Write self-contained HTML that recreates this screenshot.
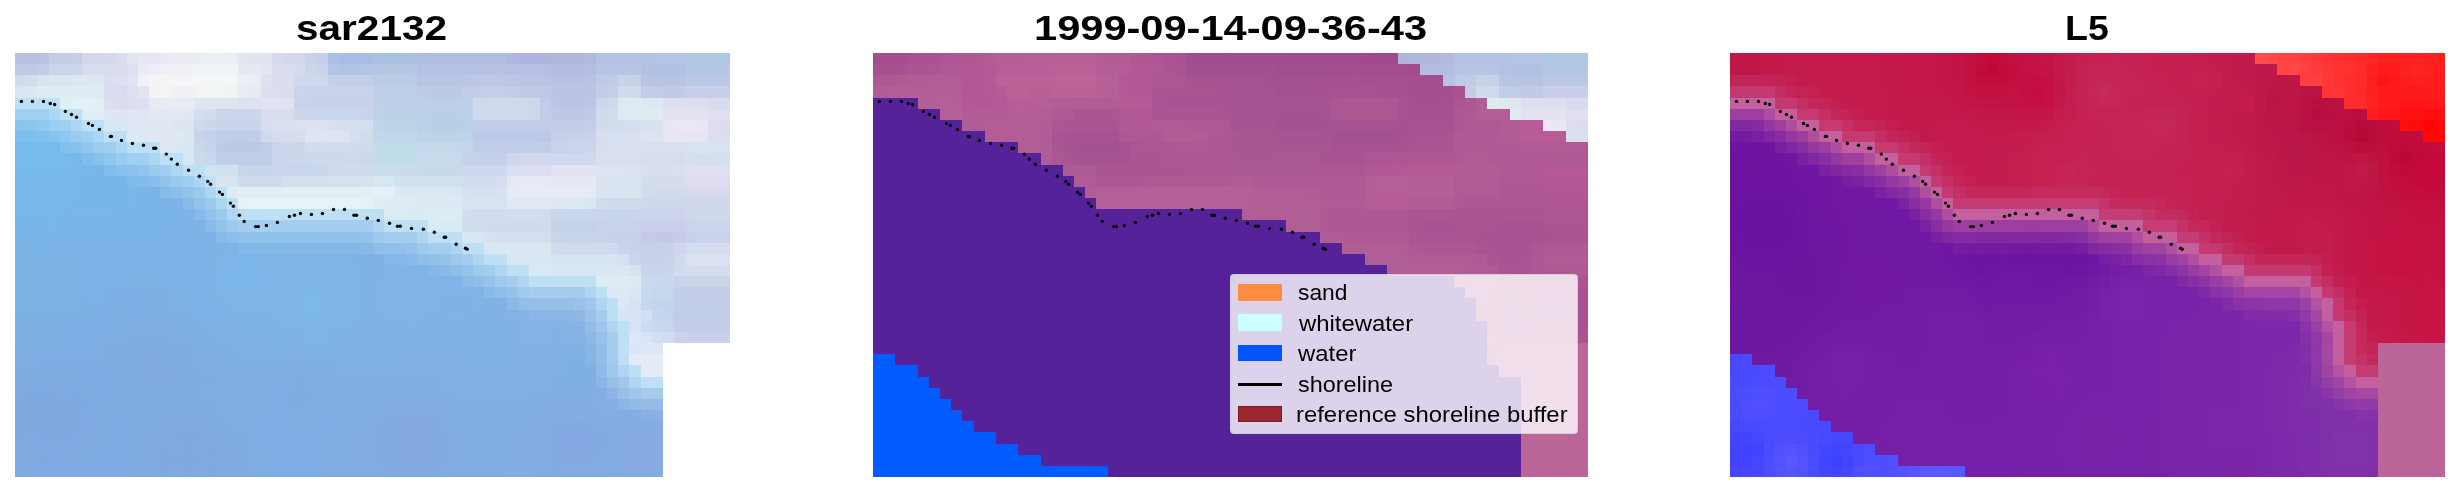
<!DOCTYPE html>
<html><head><meta charset="utf-8"><style>
html,body{margin:0;padding:0;background:#fff;width:2460px;height:492px;overflow:hidden}
body{position:relative;font-family:"Liberation Sans",sans-serif}
.pn{position:absolute;top:53px;display:block}
.ov{position:absolute;left:0;top:0}
.t{position:absolute;top:0;font-weight:bold;font-size:35.4px;line-height:1;color:#000;white-space:nowrap;transform-origin:0 0;will-change:transform}
.lg{position:absolute;left:1230px;top:274px;width:348px;height:160px;box-sizing:border-box;border:1px solid rgba(204,204,204,0.8);
border-radius:4px;background:rgba(255,255,255,0.8)}
.lt{position:absolute;left:1298px;font-size:22px;line-height:1;color:#000;white-space:nowrap;transform-origin:0 0;transform:scaleX(1.085);will-change:transform}
.pt{position:absolute;left:1238px;width:44px;height:17px}
</style></head><body>
<svg class="pn" style="left:15px" width="715" height="424" viewBox="0 0 64 38" preserveAspectRatio="none" shape-rendering="crispEdges"><path fill="#b9c1e1" d="M0 0h1v1h-1z"/><path fill="#b9c1e0" d="M1 0h1v1h-1z"/><path fill="#bac2e1" d="M2 0h1v1h-1z"/><path fill="#c4cce6" d="M3 0h1v1h-1zM52 3h1v1h-1z"/><path fill="#c5cde6" d="M4 0h1v1h-1z"/><path fill="#c7cee7" d="M5 0h1v1h-1z"/><path fill="#d3d7ec" d="M6 0h1v1h-1z"/><path fill="#d4d8ec" d="M7 0h1v1h-1zM24 0h1v1h-1z"/><path fill="#d5d9ed" d="M8 0h1v1h-1z"/><path fill="#d9ddee" d="M9 0h1v1h-1z"/><path fill="#e2e4f1" d="M10 0h1v1h-1z"/><path fill="#e5e7f2" d="M11 0h1v1h-1z"/><path fill="#e6e7f3" d="M12 0h1v1h-1z"/><path fill="#eaeaf4" d="M13 0h1v1h-1z"/><path fill="#ebebf4" d="M14 0h1v1h-1z"/><path fill="#eaebf4" d="M15 0h1v1h-1z"/><path fill="#e9eef4" d="M16 0h1v1h-1z"/><path fill="#e9eff4" d="M17 0h2v1h-2z"/><path fill="#e8eef4" d="M19 0h1v1h-1z"/><path fill="#e1e6f2" d="M20 0h1v1h-1z"/><path fill="#e0e4f2" d="M21 0h1v1h-1z"/><path fill="#dfe3f2" d="M22 0h1v1h-1z"/><path fill="#d6daed" d="M23 0h1v1h-1z"/><path fill="#d3d8ec" d="M25 0h1v1h-1z"/><path fill="#cad1e9" d="M26 0h1v1h-1z"/><path fill="#c5cee8" d="M27 0h1v1h-1z"/><path fill="#adbfe5" d="M28 0h1v1h-1z"/><path fill="#a9bde4" d="M29 0h3v1h-3z"/><path fill="#a9c0e1" d="M32 0h1v1h-1z"/><path fill="#a9c1e0" d="M33 0h2v1h-2z"/><path fill="#aac0e1" d="M35 0h1v1h-1z"/><path fill="#b0bde2" d="M36 0h1v1h-1z"/><path fill="#b0bce2" d="M37 0h5v1h-5zM43 0h1v1h-1z"/><path fill="#b1bce2" d="M42 0h1v1h-1z"/><path fill="#aeb6e1" d="M44 0h1v1h-1z"/><path fill="#adb5e0" d="M45 0h2v1h-2z"/><path fill="#aeb6e0" d="M47 0h1v1h-1z"/><path fill="#b0b8e0" d="M48 0h3v1h-3z"/><path fill="#b1b9e1" d="M51 0h1v1h-1z"/><path fill="#b4c0e4" d="M52 0h3v1h-3zM37 1h4v1h-4z"/><path fill="#b4c1e4" d="M55 0h1v1h-1zM36 1h1v1h-1z"/><path fill="#b4c3e4" d="M56 0h1v1h-1z"/><path fill="#b4c4e4" d="M57 0h2v1h-2z"/><path fill="#b3c4e4" d="M59 0h1v1h-1z"/><path fill="#b1c8e4" d="M60 0h1v1h-1zM63 0h1v1h-1z"/><path fill="#b0c8e4" d="M61 0h2v1h-2z"/><path fill="#c1c9e5" d="M0 1h2v1h-2z"/><path fill="#c3cbe5" d="M2 1h1v1h-1z"/><path fill="#ccd4ea" d="M3 1h1v1h-1zM56 14h3v1h-3z"/><path fill="#cdd5ea" d="M4 1h1v1h-1zM26 1h1v1h-1z"/><path fill="#ced6eb" d="M5 1h1v1h-1zM52 4h1v1h-1z"/><path fill="#d7dcef" d="M6 1h1v1h-1z"/><path fill="#d8ddef" d="M7 1h1v1h-1z"/><path fill="#d8dcef" d="M8 1h1v1h-1zM24 1h1v1h-1zM22 5h1v1h-1zM24 5h1v1h-1z"/><path fill="#dcdcee" d="M9 1h1v1h-1zM63 6h1v1h-1z"/><path fill="#dedfef" d="M10 1h1v1h-1zM58 4h1v1h-1z"/><path fill="#ebebf5" d="M11 1h1v1h-1z"/><path fill="#ecedf6" d="M12 1h1v1h-1z"/><path fill="#eff0f7" d="M13 1h1v1h-1z"/><path fill="#f0f0f7" d="M14 1h2v1h-2z"/><path fill="#f0f3f6" d="M16 1h1v1h-1z"/><path fill="#f0f4f6" d="M17 1h2v1h-2z"/><path fill="#eff3f6" d="M19 1h1v1h-1z"/><path fill="#e5e9f4" d="M20 1h1v1h-1z"/><path fill="#e4e8f4" d="M21 1h1v1h-1zM12 5h3v1h-3zM49 11h2v1h-2z"/><path fill="#e2e6f3" d="M22 1h1v1h-1z"/><path fill="#d9ddef" d="M23 1h1v1h-1z"/><path fill="#d6dbee" d="M25 1h1v1h-1z"/><path fill="#cad3ea" d="M27 1h1v1h-1z"/><path fill="#b4c6e7" d="M28 1h1v1h-1z"/><path fill="#b1c4e6" d="M29 1h2v1h-2z"/><path fill="#b1c5e6" d="M31 1h1v1h-1z"/><path fill="#b3c7e4" d="M32 1h1v1h-1z"/><path fill="#b4c8e4" d="M33 1h2v1h-2z"/><path fill="#b4c7e4" d="M35 1h1v1h-1z"/><path fill="#b5c0e4" d="M41 1h1v1h-1z"/><path fill="#b8c0e4" d="M42 1h2v1h-2zM48 2h3v1h-3z"/><path fill="#b7bfe4" d="M44 1h4v1h-4z"/><path fill="#b4bce2" d="M48 1h3v1h-3z"/><path fill="#b4bde2" d="M51 1h1v1h-1z"/><path fill="#b8c4e4" d="M52 1h2v1h-2zM57 2h3v1h-3z"/><path fill="#b9c5e4" d="M54 1h1v1h-1z"/><path fill="#b8c5e4" d="M55 1h1v1h-1z"/><path fill="#b2c1e4" d="M56 1h1v1h-1z"/><path fill="#b1c1e4" d="M57 1h3v1h-3z"/><path fill="#b4c7e6" d="M60 1h1v1h-1z"/><path fill="#b4c8e6" d="M61 1h3v1h-3z"/><path fill="#d2dbed" d="M0 2h1v1h-1z"/><path fill="#d3dcee" d="M1 2h1v1h-1zM17 5h1v1h-1z"/><path fill="#d9e2ef" d="M2 2h1v1h-1z"/><path fill="#dbe3f0" d="M3 2h1v1h-1zM20 4h1v1h-1zM56 7h1v1h-1zM55 10h1v1h-1z"/><path fill="#dbe4f0" d="M4 2h1v1h-1zM53 10h2v1h-2z"/><path fill="#dee6f1" d="M5 2h1v1h-1zM16 4h1v1h-1z"/><path fill="#dfe7f2" d="M6 2h1v1h-1z"/><path fill="#dfe6f2" d="M7 2h1v1h-1z"/><path fill="#dcddf0" d="M8 2h1v1h-1z"/><path fill="#dfdff1" d="M9 2h1v1h-1z"/><path fill="#e1e2f2" d="M10 2h1v1h-1z"/><path fill="#f0f1f4" d="M11 2h1v1h-1z"/><path fill="#f3f5f4" d="M12 2h1v1h-1z"/><path fill="#f4f5f6" d="M13 2h1v1h-1z"/><path fill="#f3f5f6" d="M14 2h2v1h-2z"/><path fill="#f5f7f6" d="M16 2h3v1h-3z"/><path fill="#f4f7f6" d="M19 2h1v1h-1z"/><path fill="#ecf0f6" d="M20 2h1v1h-1z"/><path fill="#eaedf5" d="M21 2h1v1h-1z"/><path fill="#dedff1" d="M22 2h1v1h-1z"/><path fill="#dcdcf0" d="M23 2h1v1h-1zM9 4h1v1h-1z"/><path fill="#dbdcf0" d="M24 2h1v1h-1zM24 3h1v1h-1z"/><path fill="#d1d8ec" d="M25 2h1v1h-1zM60 13h4v1h-4z"/><path fill="#cfd7ec" d="M26 2h1v1h-1zM60 14h1v1h-1z"/><path fill="#ced7eb" d="M27 2h1v1h-1z"/><path fill="#c4d0ea" d="M28 2h1v1h-1z"/><path fill="#c3cfea" d="M29 2h2v1h-2z"/><path fill="#c2cfe9" d="M31 2h1v1h-1zM18 9h1v1h-1z"/><path fill="#bccce6" d="M32 2h1v1h-1z"/><path fill="#bbcce6" d="M33 2h2v1h-2z"/><path fill="#bbcbe6" d="M35 2h1v1h-1z"/><path fill="#b8c6e6" d="M36 2h4v1h-4z"/><path fill="#b9c6e6" d="M40 2h1v1h-1z"/><path fill="#bfc7e7" d="M41 2h1v1h-1zM43 2h1v1h-1z"/><path fill="#c0c8e8" d="M42 2h1v1h-1z"/><path fill="#bdc5e6" d="M44 2h1v1h-1zM48 4h1v1h-1z"/><path fill="#bcc4e6" d="M45 2h3v1h-3zM49 4h2v1h-2z"/><path fill="#b9c1e4" d="M51 2h1v1h-1z"/><path fill="#bfcae6" d="M52 2h1v1h-1z"/><path fill="#c0cce6" d="M53 2h1v1h-1z"/><path fill="#c7d3e8" d="M54 2h1v1h-1z"/><path fill="#c6d2e8" d="M55 2h1v1h-1z"/><path fill="#b9c5e5" d="M56 2h1v1h-1z"/><path fill="#bcc8e6" d="M60 2h4v1h-4z"/><path fill="#d8e7f2" d="M0 3h2v1h-2zM42 17h2v1h-2z"/><path fill="#deebf3" d="M2 3h1v1h-1z"/><path fill="#dfebf3" d="M3 3h1v1h-1z"/><path fill="#e0ecf4" d="M4 3h3v1h-3zM33 13h1v1h-1z"/><path fill="#e0eaf4" d="M7 3h1v1h-1z"/><path fill="#dadaf0" d="M8 3h2v1h-2z"/><path fill="#dfdff0" d="M10 3h1v1h-1zM62 5h2v1h-2z"/><path fill="#e3e4f1" d="M11 3h1v1h-1z"/><path fill="#f1f3f2" d="M12 3h1v1h-1z"/><path fill="#f2f5f3" d="M13 3h1v1h-1z"/><path fill="#eff1f4" d="M14 3h2v1h-2z"/><path fill="#f2f4f5" d="M16 3h1v1h-1z"/><path fill="#f2f5f5" d="M17 3h2v1h-2z"/><path fill="#f1f4f5" d="M19 3h1v1h-1z"/><path fill="#e8edf4" d="M20 3h1v1h-1z"/><path fill="#e6eaf3" d="M21 3h1v1h-1z"/><path fill="#dedef1" d="M22 3h1v1h-1zM11 4h1v1h-1z"/><path fill="#ddddf0" d="M23 3h1v1h-1zM10 4h1v1h-1z"/><path fill="#cad5eb" d="M25 3h1v1h-1zM19 5h2v1h-2zM26 5h2v1h-2z"/><path fill="#c9d4ea" d="M26 3h2v1h-2zM21 6h1v1h-1zM60 20h4v1h-4z"/><path fill="#c8d3ea" d="M28 3h3v1h-3zM52 15h1v1h-1zM55 15h1v1h-1z"/><path fill="#c7d3ea" d="M31 3h1v1h-1zM19 6h2v1h-2zM17 8h1v1h-1z"/><path fill="#bdd0e8" d="M32 3h1v1h-1z"/><path fill="#bcd0e8" d="M33 3h2v1h-2zM33 5h3v1h-3z"/><path fill="#bccfe8" d="M35 3h1v1h-1zM36 4h4v1h-4z"/><path fill="#bccbe6" d="M36 3h1v1h-1z"/><path fill="#bccae6" d="M37 3h3v1h-3z"/><path fill="#c2cce8" d="M40 3h1v1h-1z"/><path fill="#c5cde8" d="M41 3h3v1h-3z"/><path fill="#c4cce8" d="M44 3h1v1h-1zM48 6h3v1h-3zM60 24h4v1h-4z"/><path fill="#c1cae7" d="M45 3h1v1h-1z"/><path fill="#c1c9e7" d="M46 3h1v1h-1z"/><path fill="#bfc8e6" d="M47 3h1v1h-1z"/><path fill="#bcc4e4" d="M48 3h4v1h-4z"/><path fill="#c6cee7" d="M53 3h1v1h-1z"/><path fill="#d0dbec" d="M54 3h1v1h-1z"/><path fill="#cfdbec" d="M55 3h1v1h-1zM42 4h3v1h-3zM42 5h4v1h-4zM28 10h1v1h-1z"/><path fill="#c4cde7" d="M56 3h1v1h-1z"/><path fill="#c2cbe7" d="M57 3h1v1h-1z"/><path fill="#c2cae7" d="M58 3h1v1h-1zM51 5h1v1h-1z"/><path fill="#c3cae7" d="M59 3h1v1h-1z"/><path fill="#c8cde8" d="M60 3h1v1h-1zM62 3h2v1h-2z"/><path fill="#c9cde9" d="M61 3h1v1h-1z"/><path fill="#bce1f6" d="M0 4h4v1h-4zM4 5h2v1h-2zM6 6h2v1h-2zM8 7h2v1h-2z"/><path fill="#dfeff7" d="M4 4h1v1h-1zM6 5h1v1h-1z"/><path fill="#e0f0f7" d="M5 4h1v1h-1z"/><path fill="#e3f0f6" d="M6 4h1v1h-1z"/><path fill="#e3eef5" d="M7 4h1v1h-1z"/><path fill="#dfdef1" d="M8 4h1v1h-1z"/><path fill="#e8ebf3" d="M12 4h1v1h-1z"/><path fill="#e9edf4" d="M13 4h1v1h-1z"/><path fill="#e8ecf4" d="M14 4h1v1h-1z"/><path fill="#e7ebf4" d="M15 4h1v1h-1zM48 12h3v1h-3z"/><path fill="#dde5f0" d="M17 4h1v1h-1z"/><path fill="#dce4f0" d="M18 4h2v1h-2zM52 10h1v1h-1z"/><path fill="#dce3f0" d="M21 4h1v1h-1z"/><path fill="#e2e3f3" d="M22 4h2v1h-2z"/><path fill="#e0e1f2" d="M24 4h1v1h-1z"/><path fill="#cad2eb" d="M25 4h1v1h-1zM63 16h1v1h-1zM60 25h4v1h-4z"/><path fill="#c8d1ea" d="M26 4h5v1h-5z"/><path fill="#c7d1ea" d="M31 4h1v1h-1z"/><path fill="#c0d0e8" d="M32 4h1v1h-1z"/><path fill="#bfd0e8" d="M33 4h3v1h-3z"/><path fill="#bed1e8" d="M40 4h1v1h-1z"/><path fill="#cddaeb" d="M41 4h1v1h-1z"/><path fill="#cfdaeb" d="M45 4h1v1h-1z"/><path fill="#cdd9eb" d="M46 4h1v1h-1zM46 5h1v1h-1z"/><path fill="#c1cce8" d="M47 4h1v1h-1z"/><path fill="#bec6e6" d="M51 4h1v1h-1z"/><path fill="#d1d9ec" d="M53 4h1v1h-1z"/><path fill="#dde9f1" d="M54 4h1v1h-1zM56 4h1v1h-1z"/><path fill="#dfebf1" d="M55 4h1v1h-1z"/><path fill="#dde8f1" d="M57 4h1v1h-1z"/><path fill="#dedeef" d="M59 4h3v1h-3z"/><path fill="#d8dbee" d="M62 4h1v1h-1z"/><path fill="#d7dbee" d="M63 4h1v1h-1z"/><path fill="#a0d1f2" d="M0 5h3v1h-3zM4 6h1v1h-1z"/><path fill="#acd8f4" d="M3 5h1v1h-1z"/><path fill="#dfeef7" d="M7 5h1v1h-1z"/><path fill="#dfe5f4" d="M8 5h1v1h-1z"/><path fill="#dfe4f4" d="M9 5h1v1h-1z"/><path fill="#e0e4f4" d="M10 5h2v1h-2z"/><path fill="#e2e7f3" d="M15 5h1v1h-1z"/><path fill="#d5ddef" d="M16 5h1v1h-1zM25 7h1v1h-1z"/><path fill="#cbd6eb" d="M18 5h1v1h-1zM21 5h1v1h-1zM23 9h1v1h-1z"/><path fill="#d9ddf0" d="M23 5h1v1h-1z"/><path fill="#ccd6eb" d="M25 5h1v1h-1z"/><path fill="#c9d5ea" d="M28 5h3v1h-3zM23 10h1v1h-1zM52 14h4v1h-4z"/><path fill="#c8d4ea" d="M31 5h1v1h-1zM18 6h1v1h-1zM21 10h2v1h-2zM53 15h2v1h-2zM49 16h3v1h-3z"/><path fill="#bdd1e8" d="M32 5h1v1h-1z"/><path fill="#b9d0e6" d="M36 5h1v1h-1zM40 6h1v1h-1z"/><path fill="#b8d0e6" d="M37 5h3v1h-3zM37 6h3v1h-3z"/><path fill="#bad1e7" d="M40 5h1v1h-1z"/><path fill="#ccdaeb" d="M41 5h1v1h-1z"/><path fill="#c1cde8" d="M47 5h1v1h-1zM42 6h5v1h-5zM18 7h1v1h-1zM44 8h3v1h-3zM59 23h1v1h-1z"/><path fill="#c0c8e6" d="M48 5h3v1h-3z"/><path fill="#d2daed" d="M52 5h1v1h-1zM59 19h1v1h-1z"/><path fill="#d4ddee" d="M53 5h1v1h-1zM59 9h1v1h-1zM56 11h1v1h-1z"/><path fill="#dee9f1" d="M54 5h1v1h-1z"/><path fill="#dfebf2" d="M55 5h2v1h-2z"/><path fill="#e0eaf1" d="M57 5h1v1h-1z"/><path fill="#e4e2f1" d="M58 5h1v1h-1z"/><path fill="#e4e1f0" d="M59 5h3v1h-3z"/><path fill="#8bc5ef" d="M0 6h1v1h-1z"/><path fill="#8bc6f0" d="M1 6h1v1h-1z"/><path fill="#8fc8f0" d="M2 6h1v1h-1zM4 7h1v1h-1z"/><path fill="#99cef2" d="M3 6h1v1h-1z"/><path fill="#acd7f4" d="M5 6h1v1h-1z"/><path fill="#d6e8f4" d="M8 6h1v1h-1z"/><path fill="#d7e8f4" d="M9 6h1v1h-1z"/><path fill="#dfe8f4" d="M10 6h1v1h-1z"/><path fill="#e0e8f4" d="M11 6h3v1h-3z"/><path fill="#dde5f2" d="M14 6h1v1h-1z"/><path fill="#dce4f2" d="M15 6h1v1h-1z"/><path fill="#cdd9ed" d="M16 6h1v1h-1z"/><path fill="#ccd7ec" d="M17 6h1v1h-1zM24 9h2v1h-2z"/><path fill="#d9deef" d="M22 6h1v1h-1z"/><path fill="#dbdef0" d="M23 6h1v1h-1z"/><path fill="#dbdff0" d="M24 6h1v1h-1z"/><path fill="#dce1f1" d="M25 6h1v1h-1z"/><path fill="#dee3f1" d="M26 6h1v1h-1z"/><path fill="#dde2f1" d="M27 6h1v1h-1z"/><path fill="#d8e0ef" d="M28 6h1v1h-1zM53 8h3v1h-3z"/><path fill="#d7dfef" d="M29 6h1v1h-1zM52 8h1v1h-1z"/><path fill="#d6dfee" d="M30 6h1v1h-1z"/><path fill="#d4deee" d="M31 6h1v1h-1z"/><path fill="#bfd5e9" d="M32 6h1v1h-1z"/><path fill="#bcd4e8" d="M33 6h3v1h-3zM37 7h3v1h-3z"/><path fill="#b9d1e6" d="M36 6h1v1h-1z"/><path fill="#c0cde8" d="M41 6h1v1h-1zM19 7h2v1h-2zM41 8h1v1h-1zM20 9h2v1h-2zM59 22h1v1h-1z"/><path fill="#c0cce8" d="M47 6h1v1h-1zM42 8h2v1h-2zM60 22h4v1h-4zM60 23h4v1h-4z"/><path fill="#c5cde9" d="M51 6h1v1h-1z"/><path fill="#d0dbee" d="M52 6h1v1h-1z"/><path fill="#d1dcee" d="M53 6h1v1h-1zM26 8h1v1h-1z"/><path fill="#d2deef" d="M54 6h1v1h-1zM40 14h1v1h-1z"/><path fill="#d3deef" d="M55 6h1v1h-1z"/><path fill="#d8e1ef" d="M56 6h1v1h-1z"/><path fill="#dbe2ef" d="M57 6h1v1h-1z"/><path fill="#e9e6f3" d="M58 6h1v1h-1z"/><path fill="#ebe7f4" d="M59 6h2v1h-2z"/><path fill="#eae6f3" d="M61 6h1v1h-1z"/><path fill="#deddef" d="M62 6h1v1h-1z"/><path fill="#7dbeee" d="M0 7h1v1h-1z"/><path fill="#7dbfee" d="M1 7h1v1h-1z"/><path fill="#80c1ef" d="M2 7h1v1h-1z"/><path fill="#87c4f0" d="M3 7h1v1h-1z"/><path fill="#99cdf1" d="M5 7h1v1h-1z"/><path fill="#a0d0f2" d="M6 7h1v1h-1z"/><path fill="#acd7f3" d="M7 7h1v1h-1zM9 8h1v1h-1z"/><path fill="#dceaf4" d="M10 7h1v1h-1zM36 13h3v1h-3z"/><path fill="#dce9f4" d="M11 7h1v1h-1z"/><path fill="#dfe8f3" d="M12 7h1v1h-1z"/><path fill="#dfe8f2" d="M13 7h2v1h-2z"/><path fill="#dce6f1" d="M15 7h1v1h-1z"/><path fill="#c8d3eb" d="M16 7h1v1h-1z"/><path fill="#c5d1ea" d="M17 7h1v1h-1zM49 15h3v1h-3z"/><path fill="#c2cee9" d="M21 7h1v1h-1z"/><path fill="#d1d9ed" d="M22 7h1v1h-1z"/><path fill="#d4dcee" d="M23 7h2v1h-2zM57 11h2v1h-2zM61 17h3v1h-3zM60 19h4v1h-4z"/><path fill="#dee4f1" d="M26 7h1v1h-1z"/><path fill="#dfe5f2" d="M27 7h1v1h-1z"/><path fill="#dee5f1" d="M28 7h1v1h-1z"/><path fill="#dde4f1" d="M29 7h1v1h-1z"/><path fill="#d5ddee" d="M30 7h1v1h-1zM56 9h3v1h-3z"/><path fill="#d2dcee" d="M31 7h1v1h-1z"/><path fill="#c1d8ea" d="M32 7h1v1h-1z"/><path fill="#c0d8ea" d="M33 7h2v1h-2z"/><path fill="#bfd8ea" d="M35 7h1v1h-1z"/><path fill="#bdd4e8" d="M36 7h1v1h-1z"/><path fill="#bcd3e8" d="M40 7h1v1h-1z"/><path fill="#bdcae7" d="M41 7h1v1h-1z"/><path fill="#bdc9e6" d="M42 7h5v1h-5z"/><path fill="#bec9e7" d="M47 7h1v1h-1z"/><path fill="#c7cfea" d="M48 7h1v1h-1z"/><path fill="#c8d0ea" d="M49 7h2v1h-2zM54 16h2v1h-2zM55 17h1v1h-1zM58 17h1v1h-1zM56 18h2v1h-2z"/><path fill="#c9d1eb" d="M51 7h1v1h-1zM61 16h2v1h-2zM58 18h1v1h-1z"/><path fill="#d6deef" d="M52 7h1v1h-1z"/><path fill="#d7e0f0" d="M53 7h2v1h-2z"/><path fill="#d8e0f0" d="M55 7h1v1h-1zM56 8h2v1h-2zM52 9h4v1h-4z"/><path fill="#dde3f0" d="M57 7h1v1h-1z"/><path fill="#e7e5f3" d="M58 7h1v1h-1zM61 7h1v1h-1z"/><path fill="#e9e6f4" d="M59 7h2v1h-2z"/><path fill="#dddeef" d="M62 7h1v1h-1z"/><path fill="#dcddee" d="M63 7h1v1h-1z"/><path fill="#77baed" d="M0 8h1v1h-1zM0 9h1v1h-1z"/><path fill="#76bbee" d="M1 8h1v1h-1zM3 8h1v1h-1zM2 9h1v1h-1z"/><path fill="#76bcee" d="M2 8h1v1h-1z"/><path fill="#80c0ee" d="M4 8h1v1h-1z"/><path fill="#87c2ee" d="M5 8h1v1h-1z"/><path fill="#90c6ef" d="M6 8h1v1h-1z"/><path fill="#9accf0" d="M7 8h1v1h-1z"/><path fill="#a0cff1" d="M8 8h1v1h-1zM10 9h1v1h-1z"/><path fill="#bce0f6" d="M10 8h3v1h-3zM13 9h2v1h-2zM15 10h1v1h-1z"/><path fill="#d9e8f4" d="M13 8h2v1h-2z"/><path fill="#d7e6f3" d="M15 8h1v1h-1zM41 16h1v1h-1z"/><path fill="#c9d6eb" d="M16 8h1v1h-1z"/><path fill="#becbe7" d="M18 8h1v1h-1z"/><path fill="#bdcae6" d="M19 8h3v1h-3z"/><path fill="#c0cde7" d="M22 8h1v1h-1z"/><path fill="#cbd6ec" d="M23 8h1v1h-1z"/><path fill="#cdd7ec" d="M24 8h2v1h-2z"/><path fill="#d1ddee" d="M27 8h3v1h-3zM52 13h1v1h-1zM41 14h3v1h-3zM47 14h1v1h-1zM48 17h1v1h-1z"/><path fill="#d0dced" d="M30 8h1v1h-1z"/><path fill="#cfdced" d="M31 8h1v1h-1z"/><path fill="#c1dcea" d="M32 8h1v1h-1zM33 9h3v1h-3z"/><path fill="#c0dcea" d="M33 8h2v1h-2z"/><path fill="#c0dbea" d="M35 8h1v1h-1z"/><path fill="#c3d8ea" d="M36 8h1v1h-1z"/><path fill="#c4d8ea" d="M37 8h3v1h-3z"/><path fill="#c3d6e9" d="M40 8h1v1h-1z"/><path fill="#c2cde9" d="M47 8h1v1h-1z"/><path fill="#cbd3ec" d="M48 8h1v1h-1z"/><path fill="#ccd4ec" d="M49 8h2v1h-2zM60 15h4v1h-4z"/><path fill="#cdd5ec" d="M51 8h1v1h-1z"/><path fill="#d9e0f0" d="M58 8h1v1h-1z"/><path fill="#d9e1f0" d="M59 8h1v1h-1z"/><path fill="#d9e3f0" d="M60 8h1v1h-1z"/><path fill="#d9e4f0" d="M61 8h1v1h-1zM52 11h1v1h-1zM52 12h1v1h-1z"/><path fill="#d8e3f0" d="M62 8h2v1h-2zM55 11h1v1h-1zM43 13h1v1h-1z"/><path fill="#76bbed" d="M1 9h1v1h-1zM3 9h1v1h-1z"/><path fill="#77baec" d="M4 9h1v1h-1z"/><path fill="#77b8eb" d="M5 9h1v1h-1zM4 11h1v1h-1zM3 12h1v1h-1z"/><path fill="#82bdec" d="M6 9h1v1h-1z"/><path fill="#88c1ed" d="M7 9h1v1h-1z"/><path fill="#90c5ee" d="M8 9h1v1h-1z"/><path fill="#9acbf0" d="M9 9h1v1h-1z"/><path fill="#a1cff1" d="M11 9h1v1h-1z"/><path fill="#add6f3" d="M12 9h1v1h-1z"/><path fill="#d6e6f3" d="M15 9h1v1h-1z"/><path fill="#cadaed" d="M16 9h1v1h-1z"/><path fill="#c8d8ec" d="M17 9h1v1h-1z"/><path fill="#c1cee9" d="M19 9h1v1h-1z"/><path fill="#c1cee8" d="M22 9h1v1h-1z"/><path fill="#ccd8ec" d="M26 9h2v1h-2z"/><path fill="#cdd9ec" d="M28 9h3v1h-3z"/><path fill="#ccd9ec" d="M31 9h1v1h-1z"/><path fill="#c2dcea" d="M32 9h1v1h-1z"/><path fill="#c7dbec" d="M36 9h1v1h-1z"/><path fill="#c8dbec" d="M37 9h2v1h-2z"/><path fill="#c7daeb" d="M39 9h1v1h-1z"/><path fill="#c5d2e9" d="M40 9h1v1h-1z"/><path fill="#c5d0e9" d="M41 9h2v1h-2z"/><path fill="#c6d1e9" d="M43 9h1v1h-1z"/><path fill="#cfd7ed" d="M44 9h1v1h-1z"/><path fill="#d0d7ee" d="M45 9h3v1h-3z"/><path fill="#d1d9ee" d="M48 9h3v1h-3zM59 18h1v1h-1z"/><path fill="#d2d9ee" d="M51 9h1v1h-1z"/><path fill="#d3e0ee" d="M60 9h1v1h-1zM63 9h1v1h-1z"/><path fill="#d2e0ee" d="M61 9h2v1h-2z"/><path fill="#77b9ec" d="M0 10h1v1h-1zM2 10h3v1h-3z"/><path fill="#76b9ec" d="M1 10h1v1h-1z"/><path fill="#78b8eb" d="M5 10h1v1h-1z"/><path fill="#78b7ea" d="M6 10h1v1h-1zM5 12h1v1h-1zM4 13h1v1h-1zM3 14h1v1h-1z"/><path fill="#78b6ea" d="M7 10h1v1h-1zM6 11h4v1h-4zM6 12h4v1h-4zM5 13h5v1h-5zM4 14h1v1h-1zM0 15h3v1h-3z"/><path fill="#82bcec" d="M8 10h1v1h-1z"/><path fill="#88c0ed" d="M9 10h1v1h-1z"/><path fill="#8dc2ed" d="M10 10h1v1h-1z"/><path fill="#91c5ee" d="M11 10h1v1h-1z"/><path fill="#9bcaef" d="M12 10h1v1h-1zM14 11h1v1h-1z"/><path fill="#a1cef0" d="M13 10h1v1h-1z"/><path fill="#add6f2" d="M14 10h1v1h-1zM16 11h1v1h-1zM17 12h1v1h-1z"/><path fill="#bde0f6" d="M16 10h1v1h-1z"/><path fill="#d0e3f0" d="M17 10h1v1h-1z"/><path fill="#cfe2ef" d="M18 10h1v1h-1z"/><path fill="#cfe0ef" d="M19 10h1v1h-1z"/><path fill="#c8d5eb" d="M20 10h1v1h-1z"/><path fill="#c9d5eb" d="M24 10h3v1h-3zM49 14h3v1h-3zM48 16h1v1h-1z"/><path fill="#cad6eb" d="M27 10h1v1h-1zM48 14h1v1h-1z"/><path fill="#d0dcec" d="M29 10h2v1h-2zM57 12h2v1h-2z"/><path fill="#cfdcec" d="M31 10h1v1h-1z"/><path fill="#c9ddec" d="M32 10h2v1h-2z"/><path fill="#c8dcec" d="M34 10h2v1h-2z"/><path fill="#c9d9ec" d="M36 10h4v1h-4z"/><path fill="#cfd8ed" d="M40 10h1v1h-1z"/><path fill="#cfd8ee" d="M41 10h2v1h-2z"/><path fill="#d0d8ee" d="M43 10h1v1h-1z"/><path fill="#dbddf2" d="M44 10h1v1h-1z"/><path fill="#dcddf2" d="M45 10h2v1h-2z"/><path fill="#dddef2" d="M47 10h1v1h-1z"/><path fill="#e2e3f2" d="M48 10h4v1h-4z"/><path fill="#d8e0ee" d="M56 10h1v1h-1z"/><path fill="#d7dfee" d="M57 10h2v1h-2z"/><path fill="#d8dfee" d="M59 10h1v1h-1z"/><path fill="#e1e0f0" d="M60 10h1v1h-1zM63 10h1v1h-1z"/><path fill="#e2e0f0" d="M61 10h2v1h-2z"/><path fill="#76b8ec" d="M0 11h3v1h-3zM0 12h3v1h-3zM1 13h1v1h-1z"/><path fill="#77b8ec" d="M3 11h1v1h-1zM0 13h1v1h-1zM2 13h1v1h-1z"/><path fill="#78b7eb" d="M5 11h1v1h-1zM4 12h1v1h-1z"/><path fill="#7fbaeb" d="M10 11h1v1h-1z"/><path fill="#83bbeb" d="M11 11h1v1h-1z"/><path fill="#89bfec" d="M12 11h1v1h-1z"/><path fill="#92c4ed" d="M13 11h1v1h-1z"/><path fill="#a2cef0" d="M15 11h1v1h-1z"/><path fill="#bde0f5" d="M17 11h1v1h-1zM18 12h1v1h-1zM19 13h1v1h-1zM20 14h13v1h-13zM33 15h4v1h-4zM37 16h3v1h-3zM40 17h2v1h-2zM42 18h2v1h-2zM44 19h1v1h-1z"/><path fill="#d8e5f0" d="M18 11h1v1h-1z"/><path fill="#d7e4f0" d="M19 11h1v1h-1z"/><path fill="#cfdbed" d="M20 11h1v1h-1z"/><path fill="#cedaed" d="M21 11h3v1h-3z"/><path fill="#d4e0ee" d="M24 11h4v1h-4z"/><path fill="#d5e1ef" d="M28 11h3v1h-3z"/><path fill="#d5e2ef" d="M31 11h1v1h-1z"/><path fill="#d8e7f1" d="M32 11h1v1h-1z"/><path fill="#d7e7f1" d="M33 11h1v1h-1z"/><path fill="#d1e1ef" d="M34 11h1v1h-1z"/><path fill="#d0e0ee" d="M35 11h4v1h-4z"/><path fill="#d1e0ee" d="M39 11h1v1h-1z"/><path fill="#d3dcf0" d="M40 11h1v1h-1z"/><path fill="#d4dcf0" d="M41 11h2v1h-2z"/><path fill="#d5ddf0" d="M43 11h1v1h-1z"/><path fill="#e5e9f5" d="M44 11h1v1h-1z"/><path fill="#e7ebf6" d="M45 11h2v1h-2z"/><path fill="#e7eaf5" d="M47 11h1v1h-1z"/><path fill="#e5e8f4" d="M48 11h1v1h-1z"/><path fill="#e3e8f3" d="M51 11h1v1h-1z"/><path fill="#d8e4f0" d="M53 11h2v1h-2z"/><path fill="#d5dcee" d="M59 11h1v1h-1z"/><path fill="#dfdcf0" d="M60 11h1v1h-1z"/><path fill="#e0dcf0" d="M61 11h3v1h-3z"/><path fill="#79b6ea" d="M10 12h1v1h-1z"/><path fill="#79b5e9" d="M11 12h1v1h-1zM11 13h1v1h-1zM9 14h2v1h-2zM4 15h6v1h-6zM0 16h1v1h-1z"/><path fill="#7ab5e9" d="M12 12h1v1h-1zM11 14h1v1h-1z"/><path fill="#84bbea" d="M13 12h1v1h-1z"/><path fill="#8abfeb" d="M14 12h1v1h-1z"/><path fill="#92c4ec" d="M15 12h1v1h-1z"/><path fill="#9ccaee" d="M16 12h1v1h-1zM17 13h1v1h-1zM18 14h1v1h-1zM19 15h1v1h-1z"/><path fill="#dcecf4" d="M19 12h1v1h-1z"/><path fill="#e2eef5" d="M20 12h4v1h-4z"/><path fill="#e3eff5" d="M24 12h8v1h-8z"/><path fill="#e6eff5" d="M32 12h1v1h-1z"/><path fill="#e5eef5" d="M33 12h1v1h-1z"/><path fill="#dce8f2" d="M34 12h1v1h-1z"/><path fill="#dbe8f2" d="M35 12h1v1h-1z"/><path fill="#dbe7f2" d="M36 12h3v1h-3zM44 17h3v1h-3z"/><path fill="#dae7f2" d="M39 12h1v1h-1z"/><path fill="#d5e1f0" d="M40 12h1v1h-1z"/><path fill="#d4e0f0" d="M41 12h2v1h-2zM43 16h4v1h-4z"/><path fill="#d6e1f1" d="M43 12h1v1h-1z"/><path fill="#e6ebf5" d="M44 12h1v1h-1z"/><path fill="#e8ecf6" d="M45 12h3v1h-3z"/><path fill="#e5ebf3" d="M51 12h1v1h-1z"/><path fill="#d7e3f0" d="M53 12h2v1h-2zM40 13h3v1h-3z"/><path fill="#d7e3ef" d="M55 12h1v1h-1z"/><path fill="#d1dced" d="M56 12h1v1h-1z"/><path fill="#d1dbec" d="M59 12h1v1h-1z"/><path fill="#d7d9ee" d="M60 12h1v1h-1z"/><path fill="#d8d8ee" d="M61 12h3v1h-3z"/><path fill="#77b7eb" d="M3 13h1v1h-1zM0 14h3v1h-3z"/><path fill="#79b6e9" d="M10 13h1v1h-1zM5 14h4v1h-4zM3 15h1v1h-1z"/><path fill="#7ab5e8" d="M12 13h1v1h-1zM10 15h1v1h-1zM3 16h1v1h-1z"/><path fill="#7bb4e8" d="M13 13h2v1h-2zM13 14h1v1h-1zM12 15h1v1h-1zM11 16h1v1h-1z"/><path fill="#85bae9" d="M15 13h1v1h-1zM16 14h1v1h-1z"/><path fill="#93c3ec" d="M16 13h1v1h-1zM17 14h1v1h-1zM18 15h1v1h-1z"/><path fill="#aed6f2" d="M18 13h1v1h-1zM19 14h1v1h-1z"/><path fill="#e5f2f7" d="M20 13h1v1h-1z"/><path fill="#e6f3f7" d="M21 13h10v1h-10z"/><path fill="#e6f2f7" d="M31 13h1v1h-1z"/><path fill="#e1edf5" d="M32 13h1v1h-1z"/><path fill="#dfecf4" d="M34 13h1v1h-1z"/><path fill="#dfebf4" d="M35 13h1v1h-1zM53 20h2v1h-2z"/><path fill="#dceaf3" d="M39 13h1v1h-1z"/><path fill="#e2e8f3" d="M44 13h1v1h-1z"/><path fill="#e3e9f4" d="M45 13h2v1h-2z"/><path fill="#e2e9f3" d="M47 13h1v1h-1z"/><path fill="#dce7f2" d="M48 13h1v1h-1z"/><path fill="#dbe7f1" d="M49 13h2v1h-2z"/><path fill="#dae6f1" d="M51 13h1v1h-1zM47 17h1v1h-1z"/><path fill="#d0dcee" d="M53 13h3v1h-3zM42 15h5v1h-5zM49 17h4v1h-4z"/><path fill="#d0d8ec" d="M56 13h4v1h-4zM61 14h3v1h-3z"/><path fill="#7ab4e8" d="M12 14h1v1h-1zM11 15h1v1h-1zM4 16h7v1h-7z"/><path fill="#7bb4e7" d="M14 14h1v1h-1zM13 15h1v1h-1zM12 16h1v1h-1zM2 17h1v1h-1zM5 17h6v1h-6z"/><path fill="#7cb4e7" d="M15 14h1v1h-1zM14 15h3v1h-3zM13 16h1v1h-1zM16 16h1v1h-1z"/><path fill="#d9ecf4" d="M33 14h4v1h-4z"/><path fill="#dbedf4" d="M37 14h1v1h-1z"/><path fill="#dcedf4" d="M38 14h1v1h-1z"/><path fill="#dbecf3" d="M39 14h1v1h-1z"/><path fill="#d2ddef" d="M44 14h3v1h-3z"/><path fill="#cdd4ea" d="M59 14h1v1h-1z"/><path fill="#86bae9" d="M17 15h1v1h-1zM18 16h1v1h-1z"/><path fill="#a2ceef" d="M20 15h1v1h-1z"/><path fill="#a3ceef" d="M21 15h9v1h-9z"/><path fill="#a3cdef" d="M30 15h1v1h-1z"/><path fill="#a4cdef" d="M31 15h1v1h-1zM33 16h3v1h-3zM37 17h2v1h-2z"/><path fill="#afd5f2" d="M32 15h1v1h-1z"/><path fill="#d8ecf4" d="M37 15h2v1h-2z"/><path fill="#d8eaf3" d="M39 15h1v1h-1z"/><path fill="#d1deef" d="M40 15h1v1h-1z"/><path fill="#d1ddef" d="M41 15h1v1h-1z"/><path fill="#cfdbee" d="M47 15h1v1h-1zM53 17h1v1h-1z"/><path fill="#c6d2ea" d="M48 15h1v1h-1z"/><path fill="#cbd0ea" d="M56 15h4v1h-4z"/><path fill="#79b5e8" d="M1 16h2v1h-2z"/><path fill="#7cb3e7" d="M14 16h2v1h-2zM12 17h4v1h-4zM11 18h1v1h-1z"/><path fill="#7db4e7" d="M17 16h1v1h-1zM16 17h3v1h-3zM16 18h2v1h-2zM17 19h1v1h-1zM17 20h1v1h-1zM17 21h1v1h-1zM18 22h1v1h-1zM20 23h2v1h-2z"/><path fill="#8cbfea" d="M19 16h1v1h-1z"/><path fill="#90c1eb" d="M20 16h7v1h-7z"/><path fill="#91c1eb" d="M27 16h2v1h-2z"/><path fill="#91c0ea" d="M29 16h2v1h-2z"/><path fill="#95c3eb" d="M31 16h1v1h-1z"/><path fill="#9ec9ed" d="M32 16h1v1h-1zM36 17h1v1h-1zM39 18h1v1h-1z"/><path fill="#afd5f1" d="M36 16h1v1h-1zM39 17h1v1h-1zM43 19h1v1h-1z"/><path fill="#d7e7f3" d="M40 16h1v1h-1z"/><path fill="#d4e1f0" d="M42 16h1v1h-1z"/><path fill="#d3dfef" d="M47 16h1v1h-1z"/><path fill="#c9d2ea" d="M52 16h1v1h-1z"/><path fill="#c9d1ea" d="M53 16h1v1h-1zM60 16h1v1h-1z"/><path fill="#c5cae9" d="M56 16h1v1h-1z"/><path fill="#c5c9e8" d="M57 16h2v1h-2z"/><path fill="#c6cbe9" d="M59 16h1v1h-1z"/><path fill="#7ab4e7" d="M0 17h2v1h-2z"/><path fill="#7bb4e6" d="M3 17h2v1h-2z"/><path fill="#7bb3e7" d="M11 17h1v1h-1zM8 18h3v1h-3z"/><path fill="#7db5e7" d="M19 17h1v1h-1zM18 18h1v1h-1zM22 18h5v1h-5zM22 19h6v1h-6zM23 20h1v1h-1zM28 20h1v1h-1zM18 21h1v1h-1zM22 21h2v1h-2zM19 22h5v1h-5zM23 23h1v1h-1zM25 24h1v1h-1zM27 24h1v1h-1z"/><path fill="#83b9e8" d="M20 17h4v1h-4z"/><path fill="#83b8e8" d="M24 17h2v1h-2z"/><path fill="#84b8e8" d="M26 17h3v1h-3z"/><path fill="#84b8e7" d="M29 17h1v1h-1z"/><path fill="#85b8e7" d="M30 17h1v1h-1z"/><path fill="#88b9e8" d="M31 17h1v1h-1z"/><path fill="#8ebee9" d="M32 17h1v1h-1z"/><path fill="#92c0ea" d="M33 17h2v1h-2zM37 18h1v1h-1z"/><path fill="#96c3eb" d="M35 17h1v1h-1zM38 18h1v1h-1zM40 19h1v1h-1zM42 20h1v1h-1z"/><path fill="#cad3eb" d="M54 17h1v1h-1z"/><path fill="#c8cfea" d="M56 17h2v1h-2z"/><path fill="#cfd6ed" d="M59 17h1v1h-1z"/><path fill="#d3dbee" d="M60 17h1v1h-1z"/><path fill="#7bb3e6" d="M0 18h2v1h-2zM5 18h3v1h-3zM0 19h1v1h-1z"/><path fill="#7bb3e5" d="M2 18h3v1h-3z"/><path fill="#7cb3e6" d="M12 18h3v1h-3zM7 19h2v1h-2z"/><path fill="#7db3e6" d="M15 18h1v1h-1zM14 19h3v1h-3zM15 20h2v1h-2zM16 21h1v1h-1zM17 22h1v1h-1zM18 23h2v1h-2z"/><path fill="#7cb5e7" d="M19 18h3v1h-3zM18 19h1v1h-1zM18 20h1v1h-1zM22 20h1v1h-1z"/><path fill="#7eb5e6" d="M27 18h1v1h-1zM29 20h1v1h-1zM29 21h1v1h-1zM29 22h1v1h-1zM28 24h1v1h-1z"/><path fill="#7eb4e6" d="M28 18h2v1h-2zM29 19h1v1h-1zM29 23h1v1h-1zM29 24h1v1h-1zM26 25h2v1h-2z"/><path fill="#7fb3e6" d="M30 18h3v1h-3zM31 19h2v1h-2zM31 20h1v1h-1zM31 21h1v1h-1zM31 22h1v1h-1zM31 23h1v1h-1zM30 24h1v1h-1z"/><path fill="#85b7e7" d="M33 18h1v1h-1z"/><path fill="#86b7e7" d="M34 18h1v1h-1zM37 19h1v1h-1z"/><path fill="#89b9e8" d="M35 18h1v1h-1z"/><path fill="#8fbee9" d="M36 18h1v1h-1zM39 19h1v1h-1zM41 20h1v1h-1z"/><path fill="#a4ceef" d="M40 18h1v1h-1zM42 19h1v1h-1z"/><path fill="#afd6f2" d="M41 18h1v1h-1z"/><path fill="#d8e8f2" d="M44 18h4v1h-4zM48 19h4v1h-4z"/><path fill="#d7e4f2" d="M48 18h5v1h-5z"/><path fill="#d8e3f2" d="M53 18h1v1h-1z"/><path fill="#d6e0f1" d="M54 18h1v1h-1z"/><path fill="#cbd4eb" d="M55 18h1v1h-1z"/><path fill="#dae2f1" d="M60 18h1v1h-1zM63 18h1v1h-1z"/><path fill="#dbe3f1" d="M61 18h2v1h-2z"/><path fill="#7cb2e5" d="M1 19h1v1h-1zM5 19h2v1h-2zM0 20h2v1h-2zM5 20h4v1h-4zM0 21h2v1h-2zM5 21h3v1h-3zM0 22h2v1h-2z"/><path fill="#7cb2e4" d="M2 19h3v1h-3zM2 20h3v1h-3zM2 21h3v1h-3zM2 22h4v1h-4z"/><path fill="#7cb2e6" d="M9 19h4v1h-4zM9 20h2v1h-2z"/><path fill="#7db2e6" d="M13 19h1v1h-1zM13 20h2v1h-2zM15 21h1v1h-1zM16 22h1v1h-1zM17 23h1v1h-1z"/><path fill="#7cb5e8" d="M19 19h1v1h-1zM19 21h1v1h-1zM21 21h1v1h-1z"/><path fill="#7cb6e8" d="M20 19h2v1h-2zM19 20h3v1h-3zM20 21h1v1h-1z"/><path fill="#7eb5e7" d="M28 19h1v1h-1z"/><path fill="#7fb4e6" d="M30 19h1v1h-1zM30 20h1v1h-1zM30 21h1v1h-1zM30 22h1v1h-1zM30 23h1v1h-1z"/><path fill="#80b3e6" d="M33 19h4v1h-4zM32 20h7v1h-7zM32 21h2v1h-2zM37 21h2v1h-2zM41 21h1v1h-1zM32 22h2v1h-2zM37 22h1v1h-1zM33 23h1v1h-1zM35 24h1v1h-1z"/><path fill="#89bae8" d="M38 19h1v1h-1zM40 20h1v1h-1z"/><path fill="#9ecaed" d="M41 19h1v1h-1z"/><path fill="#bee0f5" d="M45 19h1v1h-1zM46 20h6v1h-6zM52 21h1v1h-1zM53 22h1v1h-1zM53 23h1v1h-1zM54 24h1v1h-1zM54 25h1v1h-1zM54 26h1v1h-1z"/><path fill="#d8e8f4" d="M46 19h2v1h-2z"/><path fill="#d9e8f2" d="M52 19h1v1h-1z"/><path fill="#dce5f2" d="M53 19h2v1h-2z"/><path fill="#d9e2f1" d="M55 19h1v1h-1z"/><path fill="#cad5ed" d="M56 19h1v1h-1z"/><path fill="#c8d4ec" d="M57 19h1v1h-1z"/><path fill="#c9d5ec" d="M58 19h1v1h-1z"/><path fill="#7db2e5" d="M11 20h2v1h-2zM14 21h1v1h-1z"/><path fill="#7db6e7" d="M24 20h4v1h-4zM24 21h1v1h-1zM28 21h1v1h-1zM24 22h1v1h-1zM28 22h1v1h-1zM24 23h1v1h-1zM28 23h1v1h-1zM26 24h1v1h-1z"/><path fill="#80b4e6" d="M39 20h1v1h-1zM34 21h3v1h-3zM39 21h2v1h-2zM34 22h3v1h-3zM34 23h3v1h-3z"/><path fill="#9fc9ed" d="M43 20h1v1h-1z"/><path fill="#a5cdee" d="M44 20h1v1h-1z"/><path fill="#b0d5f1" d="M45 20h1v1h-1zM51 21h1v1h-1zM53 24h1v1h-1z"/><path fill="#dcebf4" d="M52 20h1v1h-1z"/><path fill="#dde9f3" d="M55 20h1v1h-1z"/><path fill="#cad9ee" d="M56 20h1v1h-1z"/><path fill="#c8d8ee" d="M57 20h1v1h-1zM57 24h1v1h-1z"/><path fill="#c8d7ed" d="M58 20h1v1h-1zM58 24h1v1h-1z"/><path fill="#c9d4eb" d="M59 20h1v1h-1z"/><path fill="#7cb1e5" d="M8 21h1v1h-1zM6 22h1v1h-1zM0 23h2v1h-2z"/><path fill="#7db1e5" d="M9 21h5v1h-5zM7 22h2v1h-2z"/><path fill="#7cb7e8" d="M25 21h3v1h-3zM25 22h1v1h-1zM27 22h1v1h-1zM26 23h1v1h-1z"/><path fill="#89b9e7" d="M42 21h1v1h-1z"/><path fill="#90bde9" d="M43 21h1v1h-1z"/><path fill="#97c2ea" d="M44 21h1v1h-1z"/><path fill="#a0c9ed" d="M45 21h1v1h-1z"/><path fill="#a6cdee" d="M46 21h5v1h-5z"/><path fill="#dce8f4" d="M53 21h2v1h-2z"/><path fill="#dae7f3" d="M55 21h1v1h-1z"/><path fill="#c6d9ed" d="M56 21h1v1h-1z"/><path fill="#c4d8ec" d="M57 21h1v1h-1z"/><path fill="#c4d7ec" d="M58 21h1v1h-1z"/><path fill="#c4cee9" d="M59 21h1v1h-1z"/><path fill="#c4cde8" d="M60 21h4v1h-4z"/><path fill="#7db0e4" d="M9 22h3v1h-3zM7 23h2v1h-2zM4 24h3v1h-3zM0 25h4v1h-4z"/><path fill="#7eb0e4" d="M12 22h2v1h-2zM9 23h1v1h-1zM14 23h1v1h-1zM16 24h1v1h-1zM17 25h1v1h-1zM18 26h2v1h-2zM50 27h1v1h-1zM49 28h1v1h-1zM51 28h1v1h-1zM50 29h1v1h-1z"/><path fill="#7eb1e5" d="M14 22h2v1h-2zM16 23h1v1h-1zM17 24h1v1h-1zM18 25h2v1h-2zM20 26h4v1h-4z"/><path fill="#7cb8e8" d="M26 22h1v1h-1z"/><path fill="#80b3e5" d="M38 22h3v1h-3zM32 23h1v1h-1zM37 23h2v1h-2zM32 24h3v1h-3zM36 24h2v1h-2z"/><path fill="#81b3e5" d="M41 22h1v1h-1zM39 23h1v1h-1z"/><path fill="#81b2e5" d="M42 22h1v1h-1zM40 23h2v1h-2zM38 24h3v1h-3zM37 25h2v1h-2zM36 26h1v1h-1z"/><path fill="#82b2e5" d="M43 22h1v1h-1z"/><path fill="#8bb8e7" d="M44 22h1v1h-1z"/><path fill="#91bde8" d="M45 22h1v1h-1z"/><path fill="#95bfe9" d="M46 22h3v1h-3z"/><path fill="#96bfe9" d="M49 22h1v1h-1z"/><path fill="#9ac2ea" d="M50 22h1v1h-1zM51 23h1v1h-1z"/><path fill="#a1c8ec" d="M51 22h1v1h-1zM52 24h1v1h-1z"/><path fill="#b1d5f1" d="M52 22h1v1h-1z"/><path fill="#dbe7f4" d="M54 22h1v1h-1z"/><path fill="#d7e3f2" d="M55 22h1v1h-1z"/><path fill="#c5d7ed" d="M56 22h1v1h-1z"/><path fill="#c1d4ec" d="M57 22h2v1h-2z"/><path fill="#7cb1e4" d="M2 23h3v1h-3z"/><path fill="#7db1e4" d="M5 23h2v1h-2zM0 24h4v1h-4z"/><path fill="#7eafe4" d="M10 23h4v1h-4zM8 24h1v1h-1zM15 24h1v1h-1zM6 25h1v1h-1zM16 25h1v1h-1zM1 26h1v1h-1z"/><path fill="#7eb0e5" d="M15 23h1v1h-1z"/><path fill="#7db4e6" d="M22 23h1v1h-1zM23 24h1v1h-1z"/><path fill="#7cb7e7" d="M25 23h1v1h-1z"/><path fill="#7db7e7" d="M27 23h1v1h-1z"/><path fill="#81b2e4" d="M42 23h1v1h-1zM41 24h3v1h-3zM39 25h2v1h-2zM43 25h1v1h-1zM40 26h1v1h-1zM44 26h1v1h-1zM43 27h1v1h-1z"/><path fill="#82b2e4" d="M43 23h1v1h-1zM44 24h1v1h-1zM44 25h1v1h-1z"/><path fill="#83b2e4" d="M44 23h2v1h-2zM45 25h1v1h-1z"/><path fill="#89b6e6" d="M46 23h2v1h-2z"/><path fill="#8ab6e6" d="M48 23h1v1h-1z"/><path fill="#8bb6e6" d="M49 23h1v1h-1z"/><path fill="#8fb8e6" d="M50 23h1v1h-1z"/><path fill="#a7cdee" d="M52 23h1v1h-1z"/><path fill="#d5e4f4" d="M54 23h1v1h-1z"/><path fill="#d8e4f4" d="M55 23h1v1h-1z"/><path fill="#d3e0f2" d="M56 23h1v1h-1z"/><path fill="#c6d6ed" d="M57 23h1v1h-1z"/><path fill="#c4d4ec" d="M58 23h1v1h-1z"/><path fill="#7dafe4" d="M7 24h1v1h-1zM4 25h2v1h-2zM0 26h1v1h-1z"/><path fill="#7eafe3" d="M9 24h1v1h-1zM14 24h1v1h-1zM7 25h1v1h-1zM2 26h2v1h-2z"/><path fill="#7eaee3" d="M10 24h2v1h-2zM8 25h2v1h-2zM4 26h4v1h-4zM0 27h2v1h-2z"/><path fill="#7faee3" d="M12 24h2v1h-2zM14 25h2v1h-2zM16 26h1v1h-1zM16 27h1v1h-1zM17 28h1v1h-1zM23 28h1v1h-1zM18 29h2v1h-2zM21 29h2v1h-2zM19 30h2v1h-2z"/><path fill="#7eb2e5" d="M18 24h1v1h-1zM20 25h3v1h-3z"/><path fill="#7eb2e6" d="M19 24h1v1h-1z"/><path fill="#7eb3e6" d="M20 24h3v1h-3zM24 25h2v1h-2zM28 25h1v1h-1z"/><path fill="#7db5e6" d="M24 24h1v1h-1z"/><path fill="#7fb3e5" d="M31 24h1v1h-1zM29 25h1v1h-1z"/><path fill="#84b2e4" d="M45 24h3v1h-3zM46 25h2v1h-2z"/><path fill="#85b2e4" d="M48 24h1v1h-1z"/><path fill="#87b2e4" d="M49 24h1v1h-1z"/><path fill="#88b2e4" d="M50 24h1v1h-1z"/><path fill="#94bde8" d="M51 24h1v1h-1z"/><path fill="#d7e3f4" d="M55 24h1v1h-1z"/><path fill="#cddbf0" d="M56 24h1v1h-1z"/><path fill="#c4cde9" d="M59 24h1v1h-1z"/><path fill="#7fade2" d="M10 25h4v1h-4zM9 26h1v1h-1zM15 26h1v1h-1zM7 27h2v1h-2zM15 27h1v1h-1zM16 28h1v1h-1zM16 29h1v1h-1z"/><path fill="#7eb3e5" d="M23 25h1v1h-1z"/><path fill="#7fb2e5" d="M30 25h2v1h-2zM26 26h4v1h-4z"/><path fill="#80b2e5" d="M32 25h5v1h-5zM34 26h2v1h-2z"/><path fill="#80b2e4" d="M41 25h2v1h-2zM41 26h3v1h-3zM41 27h2v1h-2z"/><path fill="#84b1e4" d="M48 25h1v1h-1z"/><path fill="#85b1e4" d="M49 25h1v1h-1z"/><path fill="#86b2e4" d="M50 25h1v1h-1z"/><path fill="#8eb8e6" d="M51 25h1v1h-1z"/><path fill="#99c1ea" d="M52 25h1v1h-1z"/><path fill="#a6ccee" d="M53 25h1v1h-1z"/><path fill="#dbe6f6" d="M55 25h1v1h-1z"/><path fill="#dae4f5" d="M56 25h1v1h-1z"/><path fill="#d2def1" d="M57 25h1v1h-1z"/><path fill="#d0dcf0" d="M58 25h1v1h-1z"/><path fill="#cad3ec" d="M59 25h1v1h-1z"/><path fill="#7fade3" d="M8 26h1v1h-1zM17 29h1v1h-1z"/><path fill="#7face2" d="M10 26h1v1h-1zM14 26h1v1h-1zM9 27h1v1h-1zM1 28h8v1h-8zM15 28h1v1h-1zM0 29h1v1h-1zM6 29h3v1h-3zM8 30h1v1h-1z"/><path fill="#7face1" d="M11 26h1v1h-1zM13 26h1v1h-1zM9 28h1v1h-1zM9 29h1v1h-1zM9 30h1v1h-1z"/><path fill="#80abe1" d="M12 26h1v1h-1zM13 27h1v1h-1zM10 28h1v1h-1zM14 28h1v1h-1zM10 29h1v1h-1zM14 29h1v1h-1zM10 30h5v1h-5zM10 31h5v1h-5zM7 32h1v1h-1zM10 32h6v1h-6zM7 33h1v1h-1zM11 33h2v1h-2zM7 34h1v1h-1zM11 34h1v1h-1zM6 35h1v1h-1zM10 35h2v1h-2zM5 36h1v1h-1zM10 36h1v1h-1z"/><path fill="#7fafe4" d="M17 26h1v1h-1zM18 27h1v1h-1zM24 27h2v1h-2zM19 28h4v1h-4zM49 29h1v1h-1z"/><path fill="#7fb1e5" d="M24 26h2v1h-2zM30 26h1v1h-1z"/><path fill="#80b1e5" d="M31 26h3v1h-3z"/><path fill="#81b1e5" d="M37 26h1v1h-1z"/><path fill="#81b1e4" d="M38 26h2v1h-2zM34 27h7v1h-7zM44 27h1v1h-1zM39 28h6v1h-6zM41 29h3v1h-3z"/><path fill="#82b1e4" d="M45 26h1v1h-1zM49 26h2v1h-2zM45 27h3v1h-3zM45 28h1v1h-1z"/><path fill="#83b1e4" d="M46 26h3v1h-3z"/><path fill="#88b5e5" d="M51 26h1v1h-1z"/><path fill="#94bee9" d="M52 26h1v1h-1z"/><path fill="#a5ccee" d="M53 26h1v1h-1zM53 27h1v1h-1z"/><path fill="#dae5f6" d="M55 26h1v1h-1z"/><path fill="#dfe8f8" d="M56 26h1v1h-1z"/><path fill="#dfe7f7" d="M57 26h1v1h-1z"/><path fill="#7eade3" d="M2 27h5v1h-5zM0 28h1v1h-1z"/><path fill="#7fabe1" d="M10 27h1v1h-1zM2 29h3v1h-3zM6 30h1v1h-1zM7 31h1v1h-1zM0 35h1v1h-1zM1 36h1v1h-1z"/><path fill="#80abe0" d="M11 27h1v1h-1zM11 29h1v1h-1zM13 29h1v1h-1z"/><path fill="#80aae0" d="M12 27h1v1h-1zM11 28h3v1h-3zM12 29h1v1h-1z"/><path fill="#80ace1" d="M14 27h1v1h-1zM9 31h1v1h-1z"/><path fill="#7fafe3" d="M17 27h1v1h-1zM18 28h1v1h-1zM20 29h1v1h-1z"/><path fill="#7fb0e4" d="M19 27h5v1h-5zM26 27h3v1h-3zM49 27h1v1h-1z"/><path fill="#7fb1e4" d="M29 27h1v1h-1z"/><path fill="#80b1e4" d="M30 27h4v1h-4z"/><path fill="#81b0e4" d="M48 27h1v1h-1zM33 28h6v1h-6zM47 28h1v1h-1zM38 29h3v1h-3zM47 29h1v1h-1zM40 30h3v1h-3z"/><path fill="#85b4e5" d="M51 27h1v1h-1z"/><path fill="#93bee9" d="M52 27h1v1h-1z"/><path fill="#bedff5" d="M54 27h1v1h-1zM55 28h1v1h-1zM56 29h2v1h-2z"/><path fill="#e3ebf8" d="M55 27h1v1h-1z"/><path fill="#e4ecf8" d="M56 27h2v1h-2z"/><path fill="#80aee3" d="M24 28h3v1h-3zM27 29h2v1h-2zM21 30h2v1h-2zM28 30h3v1h-3zM20 31h2v1h-2zM28 31h2v1h-2zM28 32h1v1h-1z"/><path fill="#80afe3" d="M27 28h1v1h-1zM29 29h1v1h-1z"/><path fill="#80afe4" d="M28 28h1v1h-1zM30 29h2v1h-2zM48 29h1v1h-1z"/><path fill="#80b0e4" d="M29 28h4v1h-4zM48 28h1v1h-1z"/><path fill="#82b0e4" d="M46 28h1v1h-1zM44 29h3v1h-3zM43 30h2v1h-2z"/><path fill="#7cb0e4" d="M50 28h1v1h-1z"/><path fill="#90bae7" d="M52 28h1v1h-1z"/><path fill="#a0c7ec" d="M53 28h1v1h-1z"/><path fill="#b0d4f1" d="M54 28h1v1h-1zM55 29h1v1h-1z"/><path fill="#e4ecfa" d="M56 28h2v1h-2z"/><path fill="#7fabe2" d="M1 29h1v1h-1zM5 29h1v1h-1zM0 30h1v1h-1zM7 30h1v1h-1zM8 31h1v1h-1zM0 36h1v1h-1zM0 37h4v1h-4z"/><path fill="#80ace2" d="M15 29h1v1h-1zM25 29h1v1h-1zM15 30h2v1h-2zM24 30h3v1h-3zM15 31h3v1h-3zM24 31h2v1h-2zM17 32h2v1h-2zM18 33h2v1h-2zM19 34h2v1h-2zM20 35h1v1h-1zM21 37h1v1h-1z"/><path fill="#80ade3" d="M23 29h1v1h-1zM18 30h1v1h-1zM23 30h1v1h-1zM27 30h1v1h-1zM19 31h1v1h-1zM22 31h2v1h-2zM27 31h1v1h-1zM20 32h4v1h-4zM27 32h1v1h-1zM21 33h8v1h-8zM21 34h7v1h-7zM22 35h6v1h-6zM22 36h5v1h-5zM23 37h4v1h-4z"/><path fill="#80ade2" d="M24 29h1v1h-1zM26 29h1v1h-1zM17 30h1v1h-1zM18 31h1v1h-1zM26 31h1v1h-1zM19 32h1v1h-1zM24 32h3v1h-3zM20 33h1v1h-1zM21 35h1v1h-1zM21 36h1v1h-1zM22 37h1v1h-1z"/><path fill="#81afe3" d="M32 29h6v1h-6zM51 29h1v1h-1zM48 30h2v1h-2z"/><path fill="#8cb5e5" d="M52 29h1v1h-1zM54 31h1v1h-1z"/><path fill="#99c0e9" d="M53 29h1v1h-1z"/><path fill="#a1c7ec" d="M54 29h1v1h-1z"/><path fill="#7faae1" d="M1 30h1v1h-1zM5 30h1v1h-1zM0 31h1v1h-1zM6 31h1v1h-1zM0 32h1v1h-1zM0 33h1v1h-1zM0 34h1v1h-1zM2 36h1v1h-1z"/><path fill="#80a9e1" d="M2 30h2v1h-2zM1 31h1v1h-1zM5 31h1v1h-1zM1 32h1v1h-1zM5 32h1v1h-1zM1 33h1v1h-1zM5 33h1v1h-1zM2 34h1v1h-1zM4 34h1v1h-1z"/><path fill="#80aae1" d="M4 30h1v1h-1zM6 32h1v1h-1zM6 33h1v1h-1zM1 34h1v1h-1zM5 34h2v1h-2zM1 35h5v1h-5zM3 36h2v1h-2z"/><path fill="#81aee3" d="M31 30h3v1h-3zM30 31h2v1h-2zM29 32h1v1h-1z"/><path fill="#82aee3" d="M34 30h1v1h-1zM36 30h2v1h-2zM38 31h2v1h-2zM46 31h3v1h-3zM39 32h2v1h-2zM45 32h2v1h-2zM40 33h6v1h-6zM41 34h4v1h-4zM42 35h2v1h-2zM42 36h1v1h-1z"/><path fill="#82ade3" d="M35 30h1v1h-1zM32 31h1v1h-1zM49 31h1v1h-1zM40 34h1v1h-1zM40 35h2v1h-2zM44 35h1v1h-1zM41 36h1v1h-1zM43 36h2v1h-2zM40 37h4v1h-4z"/><path fill="#82afe3" d="M38 30h2v1h-2zM46 30h2v1h-2zM50 30h1v1h-1zM40 31h6v1h-6zM41 32h4v1h-4z"/><path fill="#82afe4" d="M45 30h1v1h-1z"/><path fill="#84aee2" d="M51 30h1v1h-1zM51 31h1v1h-1z"/><path fill="#86aee2" d="M52 30h1v1h-1z"/><path fill="#8db5e5" d="M53 30h1v1h-1z"/><path fill="#99bfe9" d="M54 30h1v1h-1z"/><path fill="#a1c6ec" d="M55 30h1v1h-1z"/><path fill="#a6cbed" d="M56 30h2v1h-2z"/><path fill="#80a9e0" d="M2 31h1v1h-1zM4 31h1v1h-1zM2 33h1v1h-1zM4 33h1v1h-1zM3 34h1v1h-1z"/><path fill="#80a8e0" d="M3 31h1v1h-1zM2 32h3v1h-3zM3 33h1v1h-1z"/><path fill="#82ace2" d="M33 31h4v1h-4zM32 32h1v1h-1zM31 33h1v1h-1zM31 34h1v1h-1zM39 34h1v1h-1zM31 35h1v1h-1zM31 36h1v1h-1zM39 36h1v1h-1zM31 37h2v1h-2zM39 37h1v1h-1z"/><path fill="#82ade2" d="M37 31h1v1h-1zM38 32h1v1h-1zM39 33h1v1h-1zM40 36h1v1h-1z"/><path fill="#83ade3" d="M50 31h1v1h-1zM47 32h1v1h-1zM46 33h1v1h-1zM45 34h2v1h-2zM45 35h1v1h-1zM45 36h1v1h-1zM44 37h2v1h-2z"/><path fill="#85aee2" d="M52 31h2v1h-2z"/><path fill="#92b9e7" d="M55 31h1v1h-1z"/><path fill="#95bce8" d="M56 31h2v1h-2z"/><path fill="#80abe2" d="M8 32h2v1h-2zM16 32h1v1h-1zM8 33h3v1h-3zM8 34h3v1h-3zM7 35h3v1h-3zM6 36h4v1h-4zM4 37h7v1h-7z"/><path fill="#81ade3" d="M30 32h1v1h-1zM29 33h2v1h-2zM28 34h2v1h-2zM28 35h2v1h-2zM27 36h3v1h-3zM27 37h3v1h-3z"/><path fill="#81ade2" d="M31 32h1v1h-1zM30 34h1v1h-1zM30 35h1v1h-1zM30 36h1v1h-1zM30 37h1v1h-1z"/><path fill="#83abe2" d="M33 32h1v1h-1zM37 32h1v1h-1zM38 34h1v1h-1zM38 35h1v1h-1zM38 36h1v1h-1zM48 36h1v1h-1zM33 37h1v1h-1zM37 37h1v1h-1z"/><path fill="#83aae1" d="M34 32h3v1h-3zM33 33h1v1h-1zM37 33h1v1h-1zM33 34h1v1h-1zM37 34h1v1h-1zM33 35h1v1h-1zM37 35h1v1h-1zM33 36h2v1h-2zM36 36h1v1h-1zM35 37h1v1h-1z"/><path fill="#83ace3" d="M48 32h2v1h-2zM47 33h1v1h-1zM47 34h1v1h-1zM46 35h2v1h-2zM46 36h2v1h-2zM46 37h2v1h-2z"/><path fill="#83ace2" d="M50 32h1v1h-1zM38 33h1v1h-1zM39 35h1v1h-1zM38 37h1v1h-1z"/><path fill="#84ace2" d="M51 32h1v1h-1zM53 33h3v1h-3z"/><path fill="#84ade2" d="M52 32h2v1h-2z"/><path fill="#84ade3" d="M54 32h2v1h-2z"/><path fill="#8ab1e4" d="M56 32h2v1h-2z"/><path fill="#81abe1" d="M13 33h1v1h-1zM16 33h2v1h-2z"/><path fill="#81aae1" d="M14 33h2v1h-2zM12 34h2v1h-2zM17 34h1v1h-1zM12 35h1v1h-1zM18 35h1v1h-1zM11 36h2v1h-2zM18 36h1v1h-1zM11 37h2v1h-2zM18 37h1v1h-1z"/><path fill="#82abe2" d="M32 33h1v1h-1zM32 36h1v1h-1z"/><path fill="#84a9e1" d="M34 33h1v1h-1zM36 33h1v1h-1z"/><path fill="#84a9e0" d="M35 33h1v1h-1zM36 34h1v1h-1zM34 35h1v1h-1zM36 35h1v1h-1z"/><path fill="#83abe3" d="M48 33h1v1h-1zM48 37h1v1h-1z"/><path fill="#84aae2" d="M49 33h1v1h-1zM51 33h1v1h-1zM52 34h1v1h-1zM52 35h1v1h-1zM49 36h3v1h-3z"/><path fill="#84a9e2" d="M50 33h1v1h-1zM49 34h1v1h-1zM51 34h1v1h-1zM49 35h3v1h-3z"/><path fill="#84abe2" d="M52 33h1v1h-1zM53 34h1v1h-1zM53 35h1v1h-1zM52 36h2v1h-2zM49 37h5v1h-5z"/><path fill="#85ace2" d="M56 33h2v1h-2z"/><path fill="#81a9e1" d="M14 34h3v1h-3zM13 35h1v1h-1zM17 35h1v1h-1zM13 37h1v1h-1zM17 37h1v1h-1z"/><path fill="#81abe2" d="M18 34h1v1h-1zM19 35h1v1h-1zM19 36h1v1h-1zM19 37h1v1h-1z"/><path fill="#83abe1" d="M32 34h1v1h-1zM32 35h1v1h-1zM37 36h1v1h-1zM34 37h1v1h-1zM36 37h1v1h-1z"/><path fill="#84a8e0" d="M34 34h2v1h-2zM35 35h1v1h-1z"/><path fill="#83aae2" d="M48 34h1v1h-1zM48 35h1v1h-1z"/><path fill="#84a8e2" d="M50 34h1v1h-1z"/><path fill="#85abe2" d="M54 34h4v1h-4zM54 35h2v1h-2zM54 36h1v1h-1zM54 37h1v1h-1z"/><path fill="#82a9e0" d="M14 35h1v1h-1zM16 35h1v1h-1zM14 37h1v1h-1zM16 37h1v1h-1z"/><path fill="#82a8e0" d="M15 35h1v1h-1zM14 36h3v1h-3zM15 37h1v1h-1z"/><path fill="#86aae2" d="M56 35h2v1h-2zM55 36h3v1h-3zM55 37h3v1h-3z"/><path fill="#81a9e0" d="M13 36h1v1h-1z"/><path fill="#82a9e1" d="M17 36h1v1h-1z"/><path fill="#81ace2" d="M20 36h1v1h-1zM20 37h1v1h-1z"/><path fill="#83a9e1" d="M35 36h1v1h-1z"/></svg><svg class="pn" style="left:873px" width="715" height="424" viewBox="0 0 64 38" preserveAspectRatio="none" shape-rendering="crispEdges"><path fill="#a44d8f" d="M0 0h2v1h-2z"/><path fill="#a54e8f" d="M2 0h1v1h-1z"/><path fill="#a85191" d="M3 0h1v1h-1zM51 5h1v1h-1z"/><path fill="#a95291" d="M4 0h1v1h-1z"/><path fill="#aa5391" d="M5 0h1v1h-1z"/><path fill="#ae5693" d="M6 0h1v1h-1zM25 0h1v1h-1zM63 13h1v1h-1z"/><path fill="#af5793" d="M7 0h2v1h-2zM24 0h1v1h-1z"/><path fill="#b15894" d="M9 0h1v1h-1zM7 1h2v1h-2z"/><path fill="#b45b95" d="M10 0h1v1h-1zM51 10h1v1h-1z"/><path fill="#b65c96" d="M11 0h2v1h-2z"/><path fill="#b85e96" d="M13 0h1v1h-1z"/><path fill="#b85e97" d="M14 0h2v1h-2zM11 1h1v1h-1z"/><path fill="#b75f96" d="M16 0h4v1h-4zM20 3h1v1h-1zM13 4h1v1h-1z"/><path fill="#b45c96" d="M20 0h1v1h-1zM22 1h1v1h-1zM15 5h1v1h-1z"/><path fill="#b45b96" d="M21 0h1v1h-1zM22 4h2v1h-2zM11 5h1v1h-1zM48 10h3v1h-3z"/><path fill="#b35b95" d="M22 0h1v1h-1zM26 6h1v1h-1zM26 7h1v1h-1zM28 7h1v1h-1z"/><path fill="#b05794" d="M23 0h1v1h-1zM25 1h1v1h-1zM60 12h4v1h-4z"/><path fill="#ab5492" d="M26 0h1v1h-1zM27 1h1v1h-1z"/><path fill="#a95292" d="M27 0h1v1h-1zM41 3h3v1h-3zM51 6h1v1h-1zM59 24h1v1h-1z"/><path fill="#9f4d90" d="M28 0h1v1h-1z"/><path fill="#9e4c90" d="M29 0h3v1h-3z"/><path fill="#9e4d8f" d="M32 0h4v1h-4z"/><path fill="#a04c8f" d="M36 0h1v1h-1z"/><path fill="#a14b8f" d="M37 0h7v1h-7z"/><path fill="#a0498f" d="M44 0h1v1h-1z"/><path fill="#9f498f" d="M45 0h2v1h-2z"/><path fill="#aeb6e0" d="M47 0h1v1h-1z"/><path fill="#b0b8e0" d="M48 0h3v1h-3z"/><path fill="#b1b9e1" d="M51 0h1v1h-1z"/><path fill="#b4c0e4" d="M52 0h3v1h-3z"/><path fill="#b4c1e4" d="M55 0h1v1h-1z"/><path fill="#b4c3e4" d="M56 0h1v1h-1z"/><path fill="#b4c4e4" d="M57 0h2v1h-2z"/><path fill="#b3c4e4" d="M59 0h1v1h-1z"/><path fill="#b1c8e4" d="M60 0h1v1h-1zM63 0h1v1h-1z"/><path fill="#b0c8e4" d="M61 0h2v1h-2z"/><path fill="#a75190" d="M0 1h1v1h-1z"/><path fill="#a75090" d="M1 1h1v1h-1z"/><path fill="#a85190" d="M2 1h1v1h-1z"/><path fill="#ab5592" d="M3 1h1v1h-1z"/><path fill="#ac5592" d="M4 1h1v1h-1zM56 14h3v1h-3z"/><path fill="#ac5693" d="M5 1h1v1h-1zM27 2h1v1h-1zM24 8h2v1h-2zM26 9h2v1h-2z"/><path fill="#b05894" d="M6 1h1v1h-1zM24 1h1v1h-1zM22 5h1v1h-1zM24 5h1v1h-1z"/><path fill="#b25894" d="M9 1h1v1h-1z"/><path fill="#b35995" d="M10 1h1v1h-1zM9 2h1v1h-1zM22 2h1v1h-1zM10 3h1v1h-1zM22 3h1v1h-1zM8 4h1v1h-1zM11 4h1v1h-1z"/><path fill="#b95f97" d="M12 1h1v1h-1z"/><path fill="#ba6098" d="M13 1h3v1h-3z"/><path fill="#ba6197" d="M16 1h1v1h-1zM19 1h1v1h-1zM19 3h1v1h-1z"/><path fill="#ba6297" d="M17 1h2v1h-2z"/><path fill="#b65d96" d="M20 1h1v1h-1z"/><path fill="#b55d96" d="M21 1h1v1h-1zM12 5h3v1h-3zM48 11h4v1h-4zM45 13h2v1h-2z"/><path fill="#b15895" d="M23 1h1v1h-1zM24 2h1v1h-1zM23 5h1v1h-1z"/><path fill="#ac5593" d="M26 1h1v1h-1zM52 4h1v1h-1zM49 8h3v1h-3zM59 14h1v1h-1zM60 15h4v1h-4z"/><path fill="#a24f91" d="M28 1h1v1h-1z"/><path fill="#a14f91" d="M29 1h3v1h-3z"/><path fill="#a25090" d="M32 1h4v1h-4z"/><path fill="#a24d90" d="M36 1h6v1h-6z"/><path fill="#a34d90" d="M42 1h1v1h-1zM44 1h3v1h-3z"/><path fill="#a44d90" d="M43 1h1v1h-1zM48 2h3v1h-3z"/><path fill="#a34c90" d="M47 1h1v1h-1z"/><path fill="#a24b8f" d="M48 1h1v1h-1z"/><path fill="#b4bce2" d="M49 1h2v1h-2z"/><path fill="#b4bde2" d="M51 1h1v1h-1z"/><path fill="#b8c4e4" d="M52 1h2v1h-2zM57 2h3v1h-3z"/><path fill="#b9c5e4" d="M54 1h1v1h-1z"/><path fill="#b8c5e4" d="M55 1h1v1h-1z"/><path fill="#b2c1e4" d="M56 1h1v1h-1z"/><path fill="#b1c1e4" d="M57 1h3v1h-3z"/><path fill="#b4c7e6" d="M60 1h1v1h-1z"/><path fill="#b4c8e6" d="M61 1h3v1h-3z"/><path fill="#ae5894" d="M0 2h1v1h-1zM17 5h1v1h-1zM53 6h1v1h-1zM31 7h1v1h-1zM27 8h3v1h-3zM52 13h1v1h-1zM44 14h4v1h-4zM48 17h1v1h-1z"/><path fill="#af5894" d="M1 2h1v1h-1zM53 5h1v1h-1zM23 7h3v1h-3zM30 7h1v1h-1zM56 9h4v1h-4zM56 11h4v1h-4zM60 17h4v1h-4zM60 19h4v1h-4z"/><path fill="#b15a94" d="M2 2h1v1h-1zM56 6h1v1h-1z"/><path fill="#b25b95" d="M3 2h2v1h-2zM18 4h4v1h-4zM15 6h1v1h-1zM27 6h1v1h-1zM29 7h1v1h-1zM56 7h2v1h-2zM52 10h4v1h-4z"/><path fill="#b35c95" d="M5 2h1v1h-1zM7 2h1v1h-1zM16 4h2v1h-2zM27 7h1v1h-1z"/><path fill="#b35d96" d="M6 2h1v1h-1zM10 6h2v1h-2zM12 7h3v1h-3z"/><path fill="#b25895" d="M8 2h1v1h-1zM23 2h1v1h-1zM23 3h2v1h-2zM9 4h2v1h-2zM44 10h1v1h-1z"/><path fill="#b45a95" d="M10 2h1v1h-1z"/><path fill="#ba6196" d="M11 2h1v1h-1zM12 3h1v1h-1z"/><path fill="#bb6296" d="M12 2h1v1h-1zM13 3h1v1h-1z"/><path fill="#bb6297" d="M13 2h3v1h-3zM16 3h3v1h-3z"/><path fill="#bc6397" d="M16 2h4v1h-4z"/><path fill="#b86097" d="M20 2h1v1h-1z"/><path fill="#b75f97" d="M21 2h1v1h-1z"/><path fill="#ae5793" d="M25 2h1v1h-1z"/><path fill="#ad5693" d="M26 2h1v1h-1zM57 13h6v1h-6zM60 14h4v1h-4z"/><path fill="#a85392" d="M28 2h4v1h-4zM18 9h1v1h-1z"/><path fill="#a55291" d="M32 2h3v1h-3z"/><path fill="#a55191" d="M35 2h1v1h-1zM36 3h4v1h-4zM41 7h1v1h-1zM19 8h3v1h-3z"/><path fill="#a44f91" d="M36 2h5v1h-5z"/><path fill="#a65091" d="M41 2h1v1h-1z"/><path fill="#a75091" d="M42 2h2v1h-2zM47 3h1v1h-1zM48 5h3v1h-3z"/><path fill="#a54f91" d="M44 2h1v1h-1zM48 4h3v1h-3z"/><path fill="#a54e91" d="M45 2h3v1h-3z"/><path fill="#b9c1e4" d="M51 2h1v1h-1z"/><path fill="#bfcae6" d="M52 2h1v1h-1z"/><path fill="#c0cce6" d="M53 2h1v1h-1z"/><path fill="#c7d3e8" d="M54 2h1v1h-1z"/><path fill="#c6d2e8" d="M55 2h1v1h-1z"/><path fill="#b9c5e5" d="M56 2h1v1h-1z"/><path fill="#bcc8e6" d="M60 2h4v1h-4z"/><path fill="#b05c95" d="M0 3h1v1h-1zM32 11h2v1h-2z"/><path fill="#b15d96" d="M1 3h1v1h-1zM13 8h2v1h-2zM44 17h1v1h-1zM44 18h4v1h-4zM46 19h7v1h-7z"/><path fill="#b35e96" d="M2 3h3v1h-3zM7 3h1v1h-1zM34 13h2v1h-2zM53 20h2v1h-2z"/><path fill="#b45e96" d="M5 3h2v1h-2z"/><path fill="#b15795" d="M8 3h2v1h-2z"/><path fill="#b55b95" d="M11 3h1v1h-1z"/><path fill="#b96096" d="M14 3h1v1h-1z"/><path fill="#b96097" d="M15 3h1v1h-1z"/><path fill="#b65e96" d="M21 3h1v1h-1zM15 4h1v1h-1zM48 12h4v1h-4z"/><path fill="#ab5593" d="M25 3h1v1h-1zM19 5h2v1h-2zM26 5h5v1h-5zM23 8h1v1h-1zM48 8h1v1h-1zM24 10h3v1h-3zM49 14h3v1h-3zM48 16h1v1h-1zM55 18h1v1h-1zM56 19h1v1h-1z"/><path fill="#aa5592" d="M26 3h5v1h-5zM18 6h3v1h-3zM21 10h2v1h-2zM52 15h4v1h-4zM60 20h4v1h-4z"/><path fill="#a95492" d="M31 3h1v1h-1zM17 8h1v1h-1zM40 9h1v1h-1zM43 9h1v1h-1zM51 15h1v1h-1z"/><path fill="#a65392" d="M32 3h1v1h-1zM35 4h1v1h-1zM40 4h1v1h-1zM32 5h1v1h-1z"/><path fill="#a55392" d="M33 3h2v1h-2zM33 5h3v1h-3z"/><path fill="#a55391" d="M35 3h1v1h-1zM36 4h4v1h-4z"/><path fill="#a75191" d="M40 3h1v1h-1zM45 3h2v1h-2z"/><path fill="#a85292" d="M44 3h1v1h-1zM48 6h3v1h-3zM21 7h1v1h-1zM47 8h1v1h-1zM59 21h5v1h-5zM60 24h4v1h-4z"/><path fill="#a54e90" d="M48 3h3v1h-3z"/><path fill="#a54f90" d="M51 3h1v1h-1z"/><path fill="#a85291" d="M52 3h1v1h-1z"/><path fill="#c6cee7" d="M53 3h1v1h-1z"/><path fill="#d0dbec" d="M54 3h1v1h-1z"/><path fill="#cfdbec" d="M55 3h1v1h-1z"/><path fill="#c4cde7" d="M56 3h1v1h-1z"/><path fill="#c2cbe7" d="M57 3h1v1h-1z"/><path fill="#c2cae7" d="M58 3h1v1h-1z"/><path fill="#c3cae7" d="M59 3h1v1h-1z"/><path fill="#c8cde8" d="M60 3h1v1h-1zM62 3h2v1h-2z"/><path fill="#c9cde9" d="M61 3h1v1h-1z"/><path fill="#55229a" d="M0 4h4v1h-4zM0 5h6v1h-6zM0 6h8v1h-8zM0 7h10v1h-10zM0 8h13v1h-13zM0 9h15v1h-15zM0 10h17v1h-17zM0 11h18v1h-18zM0 12h19v1h-19zM0 13h20v1h-20zM0 14h33v1h-33zM0 15h37v1h-37zM0 16h40v1h-40zM0 17h42v1h-42zM0 18h44v1h-44zM0 19h46v1h-46zM0 20h52v1h-52zM0 21h53v1h-53zM0 22h54v1h-54zM0 23h54v1h-54zM0 24h55v1h-55zM0 25h55v1h-55zM0 26h55v1h-55zM2 27h53v1h-53zM4 28h52v1h-52zM5 29h53v1h-53zM6 30h52v1h-52zM7 31h51v1h-51zM8 32h50v1h-50zM9 33h49v1h-49zM11 34h47v1h-47zM13 35h45v1h-45zM15 36h43v1h-43zM21 37h37v1h-37z"/><path fill="#b36098" d="M4 4h1v1h-1zM6 5h1v1h-1z"/><path fill="#b46098" d="M5 4h1v1h-1z"/><path fill="#b56097" d="M6 4h1v1h-1zM24 12h8v1h-8z"/><path fill="#b55f97" d="M7 4h1v1h-1z"/><path fill="#b75e96" d="M12 4h1v1h-1zM14 4h1v1h-1z"/><path fill="#b45a96" d="M24 4h1v1h-1z"/><path fill="#ab5493" d="M25 4h1v1h-1zM51 7h1v1h-1zM61 16h3v1h-3zM54 17h1v1h-1zM59 25h5v1h-5z"/><path fill="#aa5392" d="M26 4h6v1h-6zM48 7h3v1h-3zM54 16h2v1h-2zM55 17h4v1h-4zM56 18h2v1h-2z"/><path fill="#a75392" d="M32 4h3v1h-3z"/><path fill="#ac5793" d="M41 4h1v1h-1zM46 4h1v1h-1zM41 5h1v1h-1zM46 5h1v1h-1zM16 6h1v1h-1zM28 9h3v1h-3zM21 11h2v1h-2z"/><path fill="#ad5793" d="M42 4h4v1h-4zM53 4h1v1h-1zM42 5h4v1h-4zM56 13h1v1h-1z"/><path fill="#a75292" d="M47 4h1v1h-1zM47 5h1v1h-1zM41 6h6v1h-6zM18 7h3v1h-3zM41 8h6v1h-6zM19 9h4v1h-4zM59 22h5v1h-5zM59 23h5v1h-5z"/><path fill="#a64f91" d="M51 4h1v1h-1z"/><path fill="#b25d95" d="M54 4h1v1h-1z"/><path fill="#dfebf1" d="M55 4h1v1h-1z"/><path fill="#dde9f1" d="M56 4h1v1h-1z"/><path fill="#dde8f1" d="M57 4h1v1h-1z"/><path fill="#dedfef" d="M58 4h1v1h-1z"/><path fill="#dedeef" d="M59 4h3v1h-3z"/><path fill="#d8dbee" d="M62 4h1v1h-1z"/><path fill="#d7dbee" d="M63 4h1v1h-1z"/><path fill="#b35f98" d="M7 5h1v1h-1z"/><path fill="#b35b96" d="M8 5h3v1h-3z"/><path fill="#af5994" d="M16 5h1v1h-1zM31 6h1v1h-1zM24 11h1v1h-1z"/><path fill="#ab5693" d="M18 5h1v1h-1zM21 5h1v1h-1zM25 5h1v1h-1zM17 6h1v1h-1zM23 9h3v1h-3zM27 10h1v1h-1zM48 14h1v1h-1z"/><path fill="#aa5593" d="M31 5h1v1h-1zM21 6h1v1h-1zM20 10h1v1h-1zM23 10h1v1h-1zM52 14h4v1h-4zM49 16h3v1h-3zM57 19h2v1h-2zM59 20h1v1h-1z"/><path fill="#a45391" d="M36 5h4v1h-4zM36 6h5v1h-5z"/><path fill="#a55491" d="M40 5h1v1h-1z"/><path fill="#ae5794" d="M52 5h1v1h-1zM22 7h1v1h-1zM48 9h4v1h-4zM59 19h1v1h-1z"/><path fill="#b35d95" d="M54 5h1v1h-1z"/><path fill="#b35e95" d="M55 5h2v1h-2z"/><path fill="#e0eaf1" d="M57 5h1v1h-1z"/><path fill="#e4e2f1" d="M58 5h1v1h-1z"/><path fill="#e4e1f0" d="M59 5h3v1h-3z"/><path fill="#dfdff0" d="M62 5h2v1h-2z"/><path fill="#b05d96" d="M8 6h2v1h-2zM42 17h2v1h-2z"/><path fill="#b45d96" d="M12 6h2v1h-2zM44 13h1v1h-1zM47 13h1v1h-1z"/><path fill="#b35c96" d="M14 6h1v1h-1z"/><path fill="#b15994" d="M22 6h1v1h-1zM59 10h1v1h-1z"/><path fill="#b25995" d="M23 6h2v1h-2z"/><path fill="#b25a95" d="M25 6h1v1h-1z"/><path fill="#b05a94" d="M28 6h1v1h-1zM53 8h2v1h-2z"/><path fill="#b05994" d="M29 6h2v1h-2zM52 7h1v1h-1zM52 8h1v1h-1zM56 10h3v1h-3z"/><path fill="#a65592" d="M32 6h1v1h-1z"/><path fill="#a55592" d="M33 6h3v1h-3zM36 7h4v1h-4z"/><path fill="#a75192" d="M47 6h1v1h-1z"/><path fill="#ad5894" d="M52 6h1v1h-1zM26 8h1v1h-1zM30 8h1v1h-1zM20 11h1v1h-1zM53 13h3v1h-3zM41 14h3v1h-3zM41 15h7v1h-7zM49 17h4v1h-4z"/><path fill="#ae5994" d="M54 6h2v1h-2zM40 14h1v1h-1zM40 15h1v1h-1z"/><path fill="#b25a94" d="M57 6h1v1h-1z"/><path fill="#b75c96" d="M58 6h1v1h-1zM58 7h4v1h-4z"/><path fill="#b85c96" d="M59 6h1v1h-1z"/><path fill="#ebe7f4" d="M60 6h1v1h-1z"/><path fill="#eae6f3" d="M61 6h1v1h-1z"/><path fill="#deddef" d="M62 6h1v1h-1z"/><path fill="#dcdcee" d="M63 6h1v1h-1z"/><path fill="#b25d96" d="M10 7h2v1h-2zM34 12h5v1h-5zM39 13h1v1h-1zM45 17h2v1h-2zM55 20h1v1h-1zM53 21h2v1h-2zM54 22h1v1h-1z"/><path fill="#b25c95" d="M15 7h1v1h-1zM48 13h3v1h-3z"/><path fill="#aa5493" d="M16 7h1v1h-1zM52 16h2v1h-2zM58 18h1v1h-1z"/><path fill="#a95392" d="M17 7h1v1h-1zM41 9h2v1h-2zM49 15h2v1h-2z"/><path fill="#a75792" d="M32 7h1v1h-1z"/><path fill="#a75692" d="M33 7h3v1h-3z"/><path fill="#a55492" d="M40 7h1v1h-1z"/><path fill="#a55091" d="M42 7h5v1h-5z"/><path fill="#a65191" d="M47 7h1v1h-1zM18 8h1v1h-1z"/><path fill="#b05995" d="M53 7h2v1h-2zM52 9h1v1h-1z"/><path fill="#b05a95" d="M55 7h1v1h-1zM55 8h3v1h-3zM55 9h1v1h-1zM43 12h1v1h-1z"/><path fill="#dddeef" d="M62 7h1v1h-1z"/><path fill="#dcddee" d="M63 7h1v1h-1z"/><path fill="#b05c96" d="M15 8h1v1h-1zM15 9h1v1h-1zM40 16h2v1h-2z"/><path fill="#aa5693" d="M16 8h1v1h-1zM17 9h1v1h-1z"/><path fill="#a75291" d="M22 8h1v1h-1z"/><path fill="#ad5893" d="M31 8h1v1h-1zM28 10h4v1h-4zM57 12h2v1h-2z"/><path fill="#a75893" d="M32 8h1v1h-1zM35 9h1v1h-1z"/><path fill="#a75892" d="M33 8h3v1h-3zM33 9h2v1h-2z"/><path fill="#a85792" d="M36 8h1v1h-1z"/><path fill="#a85692" d="M37 8h4v1h-4z"/><path fill="#b15a95" d="M58 8h2v1h-2zM53 9h2v1h-2zM60 18h1v1h-1zM63 18h1v1h-1zM55 19h1v1h-1z"/><path fill="#b15b95" d="M60 8h2v1h-2zM52 11h3v1h-3zM52 12h1v1h-1zM61 18h2v1h-2z"/><path fill="#b05b95" d="M62 8h2v1h-2zM18 11h2v1h-2zM55 11h1v1h-1zM53 12h3v1h-3zM40 13h4v1h-4zM48 18h6v1h-6z"/><path fill="#ab5794" d="M16 9h1v1h-1zM56 20h1v1h-1z"/><path fill="#ab5793" d="M31 9h1v1h-1zM39 10h1v1h-1z"/><path fill="#a85893" d="M32 9h1v1h-1z"/><path fill="#aa5893" d="M36 9h3v1h-3zM33 10h3v1h-3z"/><path fill="#aa5793" d="M39 9h1v1h-1zM36 10h3v1h-3z"/><path fill="#ad5694" d="M44 9h4v1h-4zM40 10h4v1h-4zM59 17h1v1h-1z"/><path fill="#ae5a94" d="M60 9h3v1h-3zM34 11h1v1h-1z"/><path fill="#af5a94" d="M63 9h1v1h-1zM25 11h7v1h-7z"/><path fill="#ad5b95" d="M17 10h1v1h-1z"/><path fill="#ad5a95" d="M18 10h1v1h-1z"/><path fill="#ad5a94" d="M19 10h1v1h-1zM35 11h4v1h-4z"/><path fill="#ab5893" d="M32 10h1v1h-1z"/><path fill="#b25896" d="M45 10h2v1h-2z"/><path fill="#b25996" d="M47 10h1v1h-1z"/><path fill="#b45995" d="M60 10h4v1h-4z"/><path fill="#ad5794" d="M23 11h1v1h-1zM53 17h1v1h-1zM59 18h1v1h-1z"/><path fill="#ad5994" d="M39 11h1v1h-1z"/><path fill="#af5895" d="M40 11h3v1h-3z"/><path fill="#af5995" d="M43 11h1v1h-1zM47 16h1v1h-1z"/><path fill="#b65d97" d="M44 11h1v1h-1z"/><path fill="#b65e97" d="M45 11h3v1h-3zM44 12h1v1h-1z"/><path fill="#b35895" d="M60 11h4v1h-4z"/><path fill="#b25e96" d="M19 12h1v1h-1zM36 13h3v1h-3zM52 20h1v1h-1z"/><path fill="#b45f97" d="M20 12h4v1h-4zM32 13h1v1h-1z"/><path fill="#b66097" d="M32 12h1v1h-1z"/><path fill="#b65f97" d="M33 12h1v1h-1z"/><path fill="#b15c95" d="M39 12h1v1h-1zM51 13h1v1h-1zM47 17h1v1h-1z"/><path fill="#af5a95" d="M40 12h3v1h-3zM42 16h5v1h-5zM54 18h1v1h-1z"/><path fill="#b75e97" d="M45 12h3v1h-3z"/><path fill="#ae5893" d="M56 12h1v1h-1zM59 12h1v1h-1z"/><path fill="#b66198" d="M20 13h12v1h-12z"/><path fill="#b45f96" d="M33 13h1v1h-1z"/><path fill="#b15e96" d="M33 14h4v1h-4zM39 14h1v1h-1zM37 15h2v1h-2z"/><path fill="#b25f96" d="M37 14h2v1h-2z"/><path fill="#b05e96" d="M39 15h1v1h-1z"/><path fill="#a95493" d="M48 15h1v1h-1z"/><path fill="#ab5392" d="M56 15h4v1h-4z"/><path fill="#a95192" d="M56 16h4v1h-4z"/><path fill="#aa5393" d="M60 16h1v1h-1z"/><path fill="#b25c96" d="M53 19h1v1h-1z"/><path fill="#b25b96" d="M54 19h1v1h-1z"/><path fill="#aa5694" d="M57 20h2v1h-2zM57 24h2v1h-2z"/><path fill="#b15c96" d="M55 21h1v1h-1z"/><path fill="#a95794" d="M56 21h1v1h-1z"/><path fill="#a85693" d="M57 21h2v1h-2z"/><path fill="#b05b96" d="M55 22h1v1h-1zM55 23h1v1h-1zM55 24h1v1h-1z"/><path fill="#a95694" d="M56 22h1v1h-1zM57 23h1v1h-1z"/><path fill="#a75593" d="M57 22h2v1h-2z"/><path fill="#af5b96" d="M54 23h1v1h-1z"/><path fill="#ae5a96" d="M56 23h1v1h-1z"/><path fill="#a85593" d="M58 23h1v1h-1z"/><path fill="#ac5895" d="M56 24h1v1h-1z"/><path fill="#b25c97" d="M55 25h1v1h-1z"/><path fill="#b15b97" d="M56 25h1v1h-1z"/><path fill="#ae5995" d="M57 25h1v1h-1z"/><path fill="#ad5895" d="M58 25h1v1h-1z"/><path fill="#b15c97" d="M55 26h1v1h-1z"/><path fill="#b35d98" d="M56 26h2v1h-2z"/><path fill="#bb6599" d="M58 26h6v1h-6zM58 27h6v1h-6zM58 28h6v1h-6zM58 29h6v1h-6zM58 30h6v1h-6zM58 31h6v1h-6zM58 32h6v1h-6zM58 33h6v1h-6zM58 34h6v1h-6zM58 35h6v1h-6zM58 36h6v1h-6zM58 37h6v1h-6z"/><path fill="#005cff" d="M0 27h2v1h-2zM0 28h4v1h-4zM0 29h5v1h-5zM0 30h6v1h-6zM0 31h7v1h-7zM0 32h8v1h-8zM0 33h9v1h-9zM0 34h11v1h-11zM0 35h13v1h-13zM0 36h15v1h-15zM0 37h21v1h-21z"/><path fill="#b55e98" d="M55 27h3v1h-3z"/><path fill="#b55e99" d="M56 28h2v1h-2z"/></svg><svg class="pn" style="left:1730px" width="715" height="424" viewBox="0 0 64 38" preserveAspectRatio="none" shape-rendering="crispEdges"><path fill="#c01848" d="M0 0h3v1h-3zM0 1h3v1h-3z"/><path fill="#c11949" d="M3 0h1v1h-1zM3 1h1v1h-1z"/><path fill="#c21a4a" d="M4 0h1v1h-1zM4 1h1v1h-1z"/><path fill="#c31b4b" d="M5 0h1v1h-1zM5 1h1v1h-1z"/><path fill="#c31b4c" d="M6 0h1v1h-1zM6 1h1v1h-1zM6 2h1v1h-1zM25 7h1v1h-1zM51 15h1v1h-1zM53 17h1v1h-1z"/><path fill="#c41c4c" d="M7 0h3v1h-3zM7 1h3v1h-3zM7 2h2v1h-2zM46 4h1v1h-1z"/><path fill="#c41b4c" d="M10 0h2v1h-2zM12 1h1v1h-1zM12 2h1v1h-1zM12 5h1v1h-1zM28 6h1v1h-1z"/><path fill="#c41a4c" d="M12 0h1v1h-1zM13 3h1v1h-1zM13 4h1v1h-1zM13 5h1v1h-1zM29 5h1v1h-1z"/><path fill="#c41a4b" d="M13 0h1v1h-1zM13 1h1v1h-1zM13 2h1v1h-1zM14 5h1v1h-1zM27 6h1v1h-1z"/><path fill="#c4194b" d="M14 0h1v1h-1zM14 1h1v1h-1zM14 2h1v1h-1zM14 3h1v1h-1zM14 4h2v1h-2zM15 5h2v1h-2z"/><path fill="#c4184a" d="M15 0h2v1h-2zM15 1h3v1h-3zM15 2h3v1h-3zM15 3h3v1h-3zM16 4h2v1h-2zM29 4h1v1h-1z"/><path fill="#c31849" d="M17 0h1v1h-1zM18 3h1v1h-1z"/><path fill="#c31748" d="M18 0h1v1h-1zM19 3h1v1h-1zM55 16h1v1h-1zM55 17h1v1h-1zM55 18h1v1h-1zM55 19h1v1h-1z"/><path fill="#c31547" d="M19 0h1v1h-1zM20 3h1v1h-1zM21 4h1v1h-1zM25 5h2v1h-2z"/><path fill="#c21344" d="M20 0h1v1h-1zM20 1h1v1h-1zM21 3h1v1h-1z"/><path fill="#c10f40" d="M21 0h1v1h-1zM21 1h1v1h-1z"/><path fill="#c10c3c" d="M22 0h1v1h-1zM60 11h1v1h-1z"/><path fill="#c00a3a" d="M23 0h1v1h-1z"/><path fill="#c10c3d" d="M24 0h1v1h-1zM22 2h1v1h-1z"/><path fill="#c21041" d="M25 0h1v1h-1zM21 2h1v1h-1zM22 3h1v1h-1zM24 3h1v1h-1z"/><path fill="#c21244" d="M26 0h1v1h-1z"/><path fill="#c31446" d="M27 0h1v1h-1z"/><path fill="#c31648" d="M28 0h1v1h-1zM19 2h1v1h-1zM23 5h2v1h-2z"/><path fill="#c3194b" d="M29 0h1v1h-1zM17 5h3v1h-3zM22 6h1v1h-1z"/><path fill="#c31c4e" d="M30 0h1v1h-1zM23 9h2v1h-2zM23 10h1v1h-1zM22 11h2v1h-2zM54 19h1v1h-1z"/><path fill="#c31f50" d="M31 0h1v1h-1zM39 0h1v1h-1zM40 1h1v1h-1zM5 2h1v1h-1zM40 2h1v1h-1zM41 3h1v1h-1zM41 4h1v1h-1zM43 10h1v1h-1z"/><path fill="#c32152" d="M32 0h1v1h-1zM37 0h1v1h-1zM37 1h1v1h-1zM38 2h1v1h-1zM40 8h1v1h-1zM39 10h1v1h-1zM40 11h1v1h-1zM40 12h1v1h-1z"/><path fill="#c42254" d="M33 0h1v1h-1zM39 12h1v1h-1zM56 23h1v1h-1z"/><path fill="#c42354" d="M34 0h1v1h-1zM32 1h1v1h-1zM36 2h1v1h-1zM36 3h1v1h-1zM32 5h1v1h-1zM34 6h2v1h-2zM35 7h1v1h-1zM35 8h1v1h-1zM31 9h1v1h-1zM36 9h1v1h-1zM37 12h1v1h-1z"/><path fill="#c32254" d="M35 0h1v1h-1zM36 1h1v1h-1z"/><path fill="#c32253" d="M36 0h1v1h-1zM37 2h1v1h-1zM39 4h1v1h-1zM40 7h1v1h-1zM37 10h2v1h-2zM36 11h4v1h-4zM36 12h1v1h-1z"/><path fill="#c32051" d="M38 0h1v1h-1zM38 1h1v1h-1zM39 2h1v1h-1zM41 6h1v1h-1zM41 7h1v1h-1zM40 10h1v1h-1zM41 12h1v1h-1zM41 13h1v1h-1z"/><path fill="#c31f4f" d="M40 0h1v1h-1zM41 1h2v1h-2zM43 2h1v1h-1zM42 3h1v1h-1zM42 9h3v1h-3zM42 10h1v1h-1zM45 10h1v1h-1zM42 11h3v1h-3zM42 12h1v1h-1zM42 13h1v1h-1z"/><path fill="#c31e4f" d="M41 0h2v1h-2zM43 1h1v1h-1zM42 4h1v1h-1zM25 11h1v1h-1zM45 11h1v1h-1zM43 12h1v1h-1z"/><path fill="#c21d4e" d="M43 0h1v1h-1zM43 4h1v1h-1zM43 6h1v1h-1zM43 7h1v1h-1zM44 8h1v1h-1zM45 12h1v1h-1zM44 13h1v1h-1zM44 14h1v1h-1z"/><path fill="#c11c4d" d="M44 0h1v1h-1zM44 7h1v1h-1zM45 8h1v1h-1zM46 12h1v1h-1z"/><path fill="#c11a4c" d="M45 0h1v1h-1zM45 1h1v1h-1zM45 2h1v1h-1z"/><path fill="#c0194b" d="M46 0h1v1h-1zM46 2h1v1h-1z"/><path fill="#ff4c4c" d="M47 0h1v1h-1z"/><path fill="#ff4848" d="M48 0h1v1h-1z"/><path fill="#ff4343" d="M49 0h1v1h-1zM49 1h1v1h-1z"/><path fill="#ff4242" d="M50 0h1v1h-1z"/><path fill="#ff3f3f" d="M51 0h1v1h-1zM51 2h1v1h-1z"/><path fill="#ff3939" d="M52 0h1v1h-1z"/><path fill="#ff3434" d="M53 0h1v1h-1zM54 3h1v1h-1z"/><path fill="#ff3030" d="M54 0h1v1h-1zM55 1h1v1h-1z"/><path fill="#ff2e2e" d="M55 0h1v1h-1zM55 2h1v1h-1zM55 3h1v1h-1z"/><path fill="#ff2b2b" d="M56 0h1v1h-1zM56 1h1v1h-1zM55 4h1v1h-1z"/><path fill="#ff2525" d="M57 0h1v1h-1z"/><path fill="#ff2020" d="M58 0h2v1h-2zM61 2h1v1h-1z"/><path fill="#ff2121" d="M60 0h1v1h-1zM62 0h1v1h-1zM57 1h1v1h-1zM60 1h1v1h-1zM62 1h1v1h-1zM57 3h1v1h-1z"/><path fill="#ff2222" d="M61 0h1v1h-1z"/><path fill="#ff1f1f" d="M63 0h1v1h-1z"/><path fill="#c41c4d" d="M10 1h1v1h-1zM9 2h3v1h-3zM8 3h2v1h-2zM11 4h1v1h-1zM55 20h1v1h-1z"/><path fill="#c41b4d" d="M11 1h1v1h-1zM12 3h1v1h-1zM12 4h1v1h-1zM51 16h1v1h-1zM53 16h1v1h-1zM52 17h1v1h-1z"/><path fill="#c31749" d="M18 1h1v1h-1zM18 2h1v1h-1zM29 2h1v1h-1zM20 4h1v1h-1zM22 5h1v1h-1z"/><path fill="#c31647" d="M19 1h1v1h-1z"/><path fill="#c00a3b" d="M22 1h1v1h-1z"/><path fill="#c00838" d="M23 1h1v1h-1z"/><path fill="#c10b3b" d="M24 1h1v1h-1zM23 2h1v1h-1z"/><path fill="#c20f40" d="M25 1h1v1h-1zM23 3h1v1h-1z"/><path fill="#c31143" d="M26 1h1v1h-1zM25 3h1v1h-1z"/><path fill="#c31244" d="M27 1h1v1h-1z"/><path fill="#c31447" d="M28 1h1v1h-1z"/><path fill="#c3184a" d="M29 1h1v1h-1zM18 4h2v1h-2zM21 5h1v1h-1zM23 6h3v1h-3z"/><path fill="#c31d4e" d="M30 1h1v1h-1zM30 2h1v1h-1zM24 10h1v1h-1zM24 11h1v1h-1z"/><path fill="#c42052" d="M31 1h1v1h-1zM9 4h1v1h-1z"/><path fill="#c42455" d="M33 1h2v1h-2zM35 4h1v1h-1zM33 5h2v1h-2zM31 10h1v1h-1zM30 11h1v1h-1z"/><path fill="#c42355" d="M35 1h1v1h-1zM38 12h1v1h-1zM39 13h1v1h-1z"/><path fill="#c32050" d="M39 1h1v1h-1zM40 3h1v1h-1zM41 5h1v1h-1zM41 8h1v1h-1zM41 9h1v1h-1zM41 10h1v1h-1zM41 11h1v1h-1z"/><path fill="#c21c4d" d="M44 1h1v1h-1zM44 2h1v1h-1zM44 3h1v1h-1zM45 14h1v1h-1z"/><path fill="#c0194c" d="M46 1h1v1h-1z"/><path fill="#c0184c" d="M47 1h1v1h-1z"/><path fill="#bf184b" d="M48 1h1v1h-1zM47 2h1v1h-1z"/><path fill="#ff4646" d="M50 1h1v1h-1z"/><path fill="#ff4141" d="M51 1h1v1h-1z"/><path fill="#ff3c3c" d="M52 1h1v1h-1z"/><path fill="#ff3737" d="M53 1h1v1h-1z"/><path fill="#ff3131" d="M54 1h1v1h-1z"/><path fill="#ff1b1b" d="M58 1h1v1h-1zM60 3h1v1h-1zM62 3h1v1h-1zM58 4h1v1h-1z"/><path fill="#ff1c1c" d="M59 1h1v1h-1zM63 2h1v1h-1zM63 3h1v1h-1z"/><path fill="#ff2424" d="M61 1h1v1h-1z"/><path fill="#ff1e1e" d="M63 1h1v1h-1zM60 2h1v1h-1zM62 2h1v1h-1zM57 5h1v1h-1z"/><path fill="#c12456" d="M0 2h3v1h-3z"/><path fill="#c22457" d="M3 2h1v1h-1zM44 16h1v1h-1z"/><path fill="#c22254" d="M4 2h1v1h-1z"/><path fill="#c21445" d="M20 2h1v1h-1zM57 15h1v1h-1z"/><path fill="#c10d3d" d="M24 2h1v1h-1z"/><path fill="#c20f41" d="M25 2h1v1h-1z"/><path fill="#c30f42" d="M26 2h1v1h-1z"/><path fill="#c40f42" d="M27 2h1v1h-1zM27 4h1v1h-1z"/><path fill="#c41144" d="M28 2h1v1h-1z"/><path fill="#c42253" d="M31 2h1v1h-1zM31 3h1v1h-1zM31 4h1v1h-1zM33 7h1v1h-1zM32 9h1v1h-1zM34 9h1v1h-1zM35 10h2v1h-2zM32 11h1v1h-1z"/><path fill="#c42556" d="M32 2h1v1h-1zM32 4h1v1h-1z"/><path fill="#c42657" d="M33 2h1v1h-1zM34 3h1v1h-1z"/><path fill="#c42456" d="M34 2h2v1h-2zM35 3h1v1h-1zM8 4h1v1h-1z"/><path fill="#c42050" d="M41 2h2v1h-2zM28 8h1v1h-1zM27 9h2v1h-2zM27 10h1v1h-1zM44 10h1v1h-1zM27 11h1v1h-1z"/><path fill="#be174a" d="M48 2h1v1h-1z"/><path fill="#bd1748" d="M49 2h1v1h-1zM48 6h1v1h-1z"/><path fill="#bd1647" d="M50 2h1v1h-1z"/><path fill="#ff4040" d="M52 2h1v1h-1z"/><path fill="#ff3838" d="M53 2h1v1h-1z"/><path fill="#ff3232" d="M54 2h1v1h-1z"/><path fill="#ff2929" d="M56 2h1v1h-1z"/><path fill="#ff1d1d" d="M57 2h1v1h-1z"/><path fill="#ff1414" d="M58 2h1v1h-1z"/><path fill="#ff1919" d="M59 2h1v1h-1zM59 4h1v1h-1z"/><path fill="#c2396f" d="M0 3h3v1h-3z"/><path fill="#c33970" d="M3 3h1v1h-1zM48 19h4v1h-4zM52 20h1v1h-1z"/><path fill="#c32f64" d="M4 3h1v1h-1zM46 18h1v1h-1z"/><path fill="#c32658" d="M5 3h1v1h-1zM42 15h1v1h-1z"/><path fill="#c32356" d="M6 3h1v1h-1z"/><path fill="#c42051" d="M7 3h1v1h-1zM31 6h1v1h-1zM30 7h1v1h-1zM29 8h1v1h-1z"/><path fill="#c41c4e" d="M10 3h2v1h-2zM10 4h1v1h-1zM21 10h2v1h-2zM52 16h1v1h-1z"/><path fill="#c40e42" d="M26 3h1v1h-1z"/><path fill="#c40c40" d="M27 3h1v1h-1z"/><path fill="#c40f43" d="M28 3h1v1h-1z"/><path fill="#c41649" d="M29 3h1v1h-1z"/><path fill="#c41d4e" d="M30 3h1v1h-1zM29 6h1v1h-1zM27 7h1v1h-1zM25 9h1v1h-1zM56 22h1v1h-1z"/><path fill="#c42757" d="M32 3h1v1h-1z"/><path fill="#c42a5a" d="M33 3h1v1h-1z"/><path fill="#c32353" d="M37 3h1v1h-1zM40 6h1v1h-1zM39 8h1v1h-1zM38 9h1v1h-1z"/><path fill="#c32252" d="M38 3h1v1h-1zM40 5h1v1h-1zM39 9h1v1h-1zM34 10h1v1h-1zM33 11h3v1h-3zM35 12h1v1h-1z"/><path fill="#c32151" d="M39 3h1v1h-1zM40 4h1v1h-1zM40 9h1v1h-1z"/><path fill="#c31e4e" d="M43 3h1v1h-1zM44 12h1v1h-1z"/><path fill="#c21b4c" d="M45 3h1v1h-1zM45 4h1v1h-1zM46 15h1v1h-1zM46 16h1v1h-1z"/><path fill="#c21a4b" d="M46 3h1v1h-1zM51 14h1v1h-1zM49 15h2v1h-2zM47 16h3v1h-3zM48 17h2v1h-2z"/><path fill="#bf1849" d="M47 3h1v1h-1zM50 12h1v1h-1z"/><path fill="#bb1647" d="M48 3h1v1h-1zM49 6h1v1h-1z"/><path fill="#bc1647" d="M49 3h1v1h-1z"/><path fill="#bc1546" d="M50 3h1v1h-1zM52 9h1v1h-1z"/><path fill="#bc1345" d="M51 3h1v1h-1z"/><path fill="#bb1144" d="M52 3h1v1h-1z"/><path fill="#ff3535" d="M53 3h1v1h-1z"/><path fill="#ff2828" d="M56 3h1v1h-1z"/><path fill="#ff1a1a" d="M58 3h2v1h-2zM61 3h1v1h-1z"/><path fill="#c4609e" d="M0 4h4v1h-4zM4 5h2v1h-2zM6 6h2v1h-2zM8 7h2v1h-2zM10 8h3v1h-3zM13 9h2v1h-2zM15 10h2v1h-2zM17 11h1v1h-1zM18 12h1v1h-1zM19 13h1v1h-1zM20 14h13v1h-13zM33 15h4v1h-4zM37 16h3v1h-3zM40 17h2v1h-2zM42 18h2v1h-2zM44 19h2v1h-2zM46 20h6v1h-6zM52 21h1v1h-1zM53 22h1v1h-1zM53 23h1v1h-1zM54 24h1v1h-1zM54 25h1v1h-1zM54 26h1v1h-1zM54 27h1v1h-1zM55 28h1v1h-1zM56 29h2v1h-2z"/><path fill="#c33a70" d="M4 4h1v1h-1zM47 19h1v1h-1z"/><path fill="#c33a71" d="M5 4h1v1h-1zM44 18h2v1h-2zM46 19h1v1h-1z"/><path fill="#c33064" d="M6 4h1v1h-1z"/><path fill="#c42659" d="M7 4h1v1h-1zM11 6h2v1h-2z"/><path fill="#c21446" d="M22 4h1v1h-1z"/><path fill="#c21345" d="M23 4h1v1h-1z"/><path fill="#c31345" d="M24 4h1v1h-1z"/><path fill="#c31245" d="M25 4h1v1h-1z"/><path fill="#c41143" d="M26 4h1v1h-1z"/><path fill="#c41245" d="M28 4h1v1h-1z"/><path fill="#c41d4f" d="M30 4h1v1h-1z"/><path fill="#c42758" d="M33 4h1v1h-1z"/><path fill="#c42656" d="M34 4h1v1h-1zM38 5h1v1h-1zM37 6h1v1h-1zM39 6h1v1h-1zM38 7h1v1h-1zM30 10h1v1h-1z"/><path fill="#c32354" d="M36 4h3v1h-3z"/><path fill="#c21c4c" d="M44 4h1v1h-1zM45 15h1v1h-1z"/><path fill="#be1848" d="M47 4h1v1h-1zM50 11h1v1h-1z"/><path fill="#b81444" d="M48 4h1v1h-1z"/><path fill="#ba1545" d="M49 4h1v1h-1z"/><path fill="#bb1445" d="M50 4h1v1h-1zM50 5h1v1h-1z"/><path fill="#ba1143" d="M51 4h1v1h-1z"/><path fill="#b90e42" d="M52 4h1v1h-1z"/><path fill="#ba0f42" d="M53 4h1v1h-1zM53 6h1v1h-1z"/><path fill="#bb1042" d="M54 4h1v1h-1z"/><path fill="#ff2a2a" d="M56 4h1v1h-1z"/><path fill="#ff2323" d="M57 4h1v1h-1z"/><path fill="#ff1717" d="M60 4h1v1h-1z"/><path fill="#ff1515" d="M61 4h1v1h-1z"/><path fill="#ff1616" d="M62 4h1v1h-1zM59 5h1v1h-1z"/><path fill="#ff1818" d="M63 4h1v1h-1zM58 5h1v1h-1z"/><path fill="#9d3fa0" d="M0 5h3v1h-3zM4 6h1v1h-1zM6 7h1v1h-1zM8 8h1v1h-1zM20 15h4v1h-4zM28 15h4v1h-4z"/><path fill="#ae4d9f" d="M3 5h1v1h-1z"/><path fill="#c43a71" d="M6 5h2v1h-2zM8 6h2v1h-2zM10 7h3v1h-3zM13 8h2v1h-2zM15 9h2v1h-2zM55 24h1v1h-1z"/><path fill="#c43065" d="M8 5h1v1h-1zM10 6h1v1h-1z"/><path fill="#c4265a" d="M9 5h1v1h-1z"/><path fill="#c42457" d="M10 5h1v1h-1zM55 22h1v1h-1z"/><path fill="#c41f52" d="M11 5h1v1h-1z"/><path fill="#c3184b" d="M20 5h1v1h-1z"/><path fill="#c41547" d="M27 5h1v1h-1z"/><path fill="#c41749" d="M28 5h1v1h-1z"/><path fill="#c41e4f" d="M30 5h1v1h-1zM28 7h1v1h-1zM25 10h1v1h-1z"/><path fill="#c42152" d="M31 5h1v1h-1zM32 7h1v1h-1zM30 8h1v1h-1zM29 9h1v1h-1z"/><path fill="#c42454" d="M35 5h2v1h-2zM36 6h1v1h-1zM36 7h1v1h-1zM36 8h3v1h-3zM30 9h1v1h-1zM31 11h1v1h-1z"/><path fill="#c42555" d="M37 5h1v1h-1zM37 7h1v1h-1zM39 7h1v1h-1z"/><path fill="#c32555" d="M39 5h1v1h-1z"/><path fill="#c21e4f" d="M42 5h1v1h-1zM42 6h1v1h-1zM43 13h1v1h-1zM42 14h1v1h-1z"/><path fill="#c21d4d" d="M43 5h1v1h-1zM46 11h1v1h-1zM45 13h1v1h-1zM44 15h1v1h-1z"/><path fill="#c11c4c" d="M44 5h1v1h-1zM44 6h1v1h-1zM46 9h1v1h-1zM46 13h1v1h-1z"/><path fill="#c21b4b" d="M45 5h2v1h-2z"/><path fill="#be1849" d="M47 5h1v1h-1zM47 6h1v1h-1zM49 11h1v1h-1z"/><path fill="#bb1646" d="M48 5h1v1h-1z"/><path fill="#bb1546" d="M49 5h1v1h-1zM50 6h1v1h-1z"/><path fill="#b90f42" d="M51 5h1v1h-1zM52 6h1v1h-1z"/><path fill="#b80c40" d="M52 5h1v1h-1z"/><path fill="#b90e41" d="M53 5h1v1h-1z"/><path fill="#bb0f41" d="M54 5h1v1h-1z"/><path fill="#bb0f40" d="M55 5h1v1h-1zM54 6h1v1h-1zM54 7h1v1h-1z"/><path fill="#bb0e3e" d="M56 5h1v1h-1z"/><path fill="#ff1111" d="M60 5h1v1h-1z"/><path fill="#ff0f0f" d="M61 5h1v1h-1zM63 5h1v1h-1z"/><path fill="#ff0c0c" d="M62 5h1v1h-1zM60 6h1v1h-1z"/><path fill="#8429a0" d="M0 6h2v1h-2z"/><path fill="#872ca0" d="M2 6h1v1h-1z"/><path fill="#9437a0" d="M3 6h1v1h-1zM5 7h1v1h-1z"/><path fill="#ae4e9f" d="M5 6h1v1h-1z"/><path fill="#c42356" d="M13 6h1v1h-1z"/><path fill="#c31e51" d="M14 6h1v1h-1zM16 7h1v1h-1z"/><path fill="#c31a4b" d="M15 6h1v1h-1z"/><path fill="#c31a4c" d="M16 6h3v1h-3zM21 6h1v1h-1zM23 7h2v1h-2zM53 15h1v1h-1zM50 16h1v1h-1zM50 17h1v1h-1z"/><path fill="#c41a4d" d="M19 6h2v1h-2zM22 7h1v1h-1z"/><path fill="#c3194a" d="M26 6h1v1h-1zM54 16h1v1h-1zM54 17h1v1h-1z"/><path fill="#c41f50" d="M30 6h1v1h-1zM29 7h1v1h-1zM26 10h1v1h-1zM26 11h1v1h-1z"/><path fill="#c42252" d="M32 6h1v1h-1zM31 8h3v1h-3zM33 9h1v1h-1zM33 10h1v1h-1z"/><path fill="#c42353" d="M33 6h1v1h-1zM34 7h1v1h-1zM34 8h1v1h-1zM35 9h1v1h-1zM37 9h1v1h-1zM29 10h1v1h-1zM32 10h1v1h-1zM29 11h1v1h-1zM57 26h1v1h-1z"/><path fill="#c42858" d="M38 6h1v1h-1z"/><path fill="#c11b4b" d="M45 6h1v1h-1zM47 12h1v1h-1zM47 13h1v1h-1zM47 14h1v1h-1z"/><path fill="#c01a4a" d="M46 6h1v1h-1zM48 12h1v1h-1zM48 13h1v1h-1z"/><path fill="#ba1144" d="M51 6h1v1h-1z"/><path fill="#ba0d3d" d="M55 6h1v1h-1z"/><path fill="#b90b3b" d="M56 6h1v1h-1z"/><path fill="#ba0c3c" d="M57 6h1v1h-1z"/><path fill="#bc0d3e" d="M58 6h1v1h-1z"/><path fill="#bd0e3e" d="M59 6h1v1h-1zM58 8h1v1h-1z"/><path fill="#ff0b0b" d="M61 6h1v1h-1z"/><path fill="#ff0404" d="M62 6h1v1h-1z"/><path fill="#ff0909" d="M63 6h1v1h-1zM62 7h1v1h-1z"/><path fill="#741ba1" d="M0 7h2v1h-2z"/><path fill="#771ea1" d="M2 7h1v1h-1zM4 8h1v1h-1z"/><path fill="#8026a1" d="M3 7h1v1h-1zM5 8h1v1h-1z"/><path fill="#872ca1" d="M4 7h1v1h-1z"/><path fill="#af4e9f" d="M7 7h1v1h-1zM9 8h1v1h-1zM12 9h1v1h-1zM14 10h1v1h-1zM16 11h1v1h-1zM17 12h1v1h-1zM18 13h1v1h-1zM19 14h1v1h-1zM32 15h1v1h-1z"/><path fill="#c42f65" d="M13 7h1v1h-1zM15 8h1v1h-1z"/><path fill="#c32559" d="M14 7h1v1h-1zM51 18h1v1h-1z"/><path fill="#c32256" d="M15 7h1v1h-1z"/><path fill="#c31a4d" d="M17 7h1v1h-1z"/><path fill="#c41b4e" d="M18 7h1v1h-1zM21 7h1v1h-1zM22 8h1v1h-1zM22 9h1v1h-1z"/><path fill="#c41b4f" d="M19 7h1v1h-1z"/><path fill="#c41c4f" d="M20 7h1v1h-1zM19 8h1v1h-1zM21 8h1v1h-1zM20 9h2v1h-2z"/><path fill="#c31c4d" d="M26 7h1v1h-1zM25 8h1v1h-1z"/><path fill="#c42151" d="M31 7h1v1h-1zM28 10h1v1h-1zM28 11h1v1h-1z"/><path fill="#c21f4f" d="M42 7h1v1h-1zM42 8h1v1h-1z"/><path fill="#c11b4c" d="M45 7h1v1h-1zM46 14h1v1h-1z"/><path fill="#c01a4b" d="M46 7h1v1h-1z"/><path fill="#be1949" d="M47 7h1v1h-1z"/><path fill="#bd1848" d="M48 7h1v1h-1zM49 10h1v1h-1z"/><path fill="#bb1748" d="M49 7h1v1h-1z"/><path fill="#b91747" d="M50 7h1v1h-1zM51 8h1v1h-1z"/><path fill="#ba1546" d="M51 7h1v1h-1z"/><path fill="#bb1344" d="M52 7h1v1h-1z"/><path fill="#bb1143" d="M53 7h1v1h-1z"/><path fill="#ba0b3c" d="M55 7h1v1h-1z"/><path fill="#b80838" d="M56 7h1v1h-1z"/><path fill="#ba0b3b" d="M57 7h1v1h-1z"/><path fill="#bc0d3d" d="M58 7h1v1h-1z"/><path fill="#be0d3d" d="M59 7h1v1h-1z"/><path fill="#be0c3c" d="M60 7h1v1h-1zM59 10h1v1h-1z"/><path fill="#bf0c3c" d="M61 7h1v1h-1z"/><path fill="#ff0808" d="M63 7h1v1h-1z"/><path fill="#6c15a1" d="M0 8h1v1h-1zM2 8h1v1h-1zM3 9h1v1h-1zM4 10h1v1h-1zM6 17h1v1h-1zM0 18h1v1h-1zM7 18h1v1h-1zM1 19h2v1h-2z"/><path fill="#6c14a1" d="M1 8h1v1h-1zM3 10h1v1h-1zM3 11h2v1h-2zM0 12h1v1h-1zM6 16h1v1h-1z"/><path fill="#6d15a1" d="M3 8h1v1h-1zM4 9h1v1h-1z"/><path fill="#882ca1" d="M6 8h1v1h-1z"/><path fill="#9538a1" d="M7 8h1v1h-1zM9 9h1v1h-1zM12 10h1v1h-1zM14 11h1v1h-1zM16 12h1v1h-1zM17 13h1v1h-1zM18 14h1v1h-1zM19 15h1v1h-1zM32 16h1v1h-1z"/><path fill="#c4255a" d="M16 8h1v1h-1z"/><path fill="#c42357" d="M17 8h1v1h-1z"/><path fill="#c41f53" d="M18 8h1v1h-1z"/><path fill="#c41c50" d="M20 8h1v1h-1z"/><path fill="#c31b4d" d="M23 8h2v1h-2zM52 15h1v1h-1zM51 17h1v1h-1z"/><path fill="#c41e4e" d="M26 8h1v1h-1z"/><path fill="#c41f4f" d="M27 8h1v1h-1zM26 9h1v1h-1z"/><path fill="#c21e4e" d="M43 8h1v1h-1zM45 9h1v1h-1zM43 14h1v1h-1z"/><path fill="#c01b4b" d="M46 8h1v1h-1zM47 10h1v1h-1zM47 11h1v1h-1z"/><path fill="#be194a" d="M47 8h1v1h-1zM48 10h1v1h-1z"/><path fill="#bc1849" d="M48 8h1v1h-1z"/><path fill="#ba1848" d="M49 8h1v1h-1zM50 9h1v1h-1z"/><path fill="#b81848" d="M50 8h1v1h-1z"/><path fill="#bb1545" d="M52 8h1v1h-1z"/><path fill="#bc1344" d="M53 8h1v1h-1z"/><path fill="#bc1141" d="M54 8h1v1h-1z"/><path fill="#bb0f3f" d="M55 8h1v1h-1z"/><path fill="#ba0d3c" d="M56 8h1v1h-1z"/><path fill="#bc0e3e" d="M57 8h1v1h-1z"/><path fill="#bd0b3b" d="M59 8h1v1h-1z"/><path fill="#bd0a3a" d="M60 8h1v1h-1zM59 9h1v1h-1z"/><path fill="#bf0a3a" d="M61 8h1v1h-1z"/><path fill="#c20b3b" d="M62 8h1v1h-1z"/><path fill="#c30b3c" d="M63 8h1v1h-1z"/><path fill="#6c14a0" d="M0 9h3v1h-3zM0 10h3v1h-3zM0 11h3v1h-3zM1 12h1v1h-1z"/><path fill="#6d16a2" d="M5 9h1v1h-1zM6 10h1v1h-1zM6 11h1v1h-1zM7 14h1v1h-1zM7 15h1v1h-1zM8 16h1v1h-1zM8 17h1v1h-1zM8 18h1v1h-1zM8 21h1v1h-1z"/><path fill="#781fa2" d="M6 9h1v1h-1z"/><path fill="#8127a2" d="M7 9h1v1h-1zM19 16h1v1h-1z"/><path fill="#882da2" d="M8 9h1v1h-1zM18 15h1v1h-1z"/><path fill="#9e3fa0" d="M10 9h1v1h-1z"/><path fill="#9e3fa1" d="M11 9h1v1h-1z"/><path fill="#c43066" d="M17 9h1v1h-1zM18 10h1v1h-1zM19 11h1v1h-1zM20 12h1v1h-1z"/><path fill="#c42358" d="M18 9h1v1h-1z"/><path fill="#c42054" d="M19 9h1v1h-1z"/><path fill="#bf1a4a" d="M47 9h1v1h-1z"/><path fill="#bd1949" d="M48 9h1v1h-1z"/><path fill="#bb1848" d="M49 9h1v1h-1z"/><path fill="#ba1747" d="M51 9h1v1h-1z"/><path fill="#bd1445" d="M53 9h1v1h-1z"/><path fill="#bd1444" d="M54 9h1v1h-1z"/><path fill="#be1444" d="M55 9h1v1h-1z"/><path fill="#bf1644" d="M56 9h1v1h-1z"/><path fill="#be1342" d="M57 9h1v1h-1z"/><path fill="#be0f3f" d="M58 9h1v1h-1z"/><path fill="#bc0838" d="M60 9h1v1h-1z"/><path fill="#c00939" d="M61 9h1v1h-1z"/><path fill="#c50939" d="M62 9h1v1h-1z"/><path fill="#c50a3a" d="M63 9h1v1h-1zM63 11h1v1h-1z"/><path fill="#6d15a2" d="M5 10h1v1h-1zM5 11h1v1h-1zM6 12h1v1h-1zM21 18h1v1h-1z"/><path fill="#6e17a3" d="M7 10h1v1h-1zM7 11h1v1h-1zM8 14h1v1h-1zM9 15h1v1h-1zM9 16h1v1h-1zM9 17h2v1h-2zM9 18h1v1h-1zM9 19h1v1h-1zM9 20h1v1h-1zM9 21h1v1h-1z"/><path fill="#7920a3" d="M8 10h1v1h-1zM18 16h1v1h-1z"/><path fill="#8227a2" d="M9 10h1v1h-1z"/><path fill="#862ba2" d="M10 10h1v1h-1z"/><path fill="#892da2" d="M11 10h1v1h-1z"/><path fill="#9e40a1" d="M13 10h1v1h-1zM15 11h1v1h-1zM33 16h1v1h-1z"/><path fill="#c43a72" d="M17 10h1v1h-1zM18 11h1v1h-1zM19 12h1v1h-1zM20 13h1v1h-1z"/><path fill="#c42458" d="M19 10h1v1h-1zM20 11h1v1h-1z"/><path fill="#c42053" d="M20 10h1v1h-1zM21 11h1v1h-1z"/><path fill="#c11d4d" d="M46 10h1v1h-1z"/><path fill="#bc1748" d="M50 10h1v1h-1z"/><path fill="#bc1747" d="M51 10h1v1h-1z"/><path fill="#bd1646" d="M52 10h1v1h-1z"/><path fill="#be1545" d="M53 10h2v1h-2z"/><path fill="#bf1846" d="M55 10h1v1h-1z"/><path fill="#c01a48" d="M56 10h1v1h-1z"/><path fill="#bf1745" d="M57 10h1v1h-1z"/><path fill="#bf1140" d="M58 10h1v1h-1z"/><path fill="#be0a3a" d="M60 10h1v1h-1z"/><path fill="#c40939" d="M61 10h1v1h-1z"/><path fill="#c80838" d="M62 10h1v1h-1z"/><path fill="#c60939" d="M63 10h1v1h-1zM62 11h1v1h-1z"/><path fill="#6f17a3" d="M8 11h1v1h-1zM8 12h1v1h-1zM8 13h1v1h-1zM9 14h1v1h-1zM10 15h1v1h-1zM10 16h1v1h-1zM10 18h1v1h-1z"/><path fill="#7018a4" d="M9 11h1v1h-1zM9 12h4v1h-4zM10 13h2v1h-2zM12 18h3v1h-3zM11 19h4v1h-4zM11 20h4v1h-4zM11 21h3v1h-3z"/><path fill="#771ea3" d="M10 11h1v1h-1z"/><path fill="#7a21a3" d="M11 11h1v1h-1zM13 12h1v1h-1z"/><path fill="#8228a2" d="M12 11h1v1h-1zM14 12h1v1h-1z"/><path fill="#892ea2" d="M13 11h1v1h-1zM15 12h1v1h-1zM16 13h1v1h-1zM17 14h1v1h-1z"/><path fill="#bf194a" d="M48 11h1v1h-1z"/><path fill="#be1748" d="M51 11h1v1h-1z"/><path fill="#be1647" d="M52 11h1v1h-1z"/><path fill="#bf1646" d="M53 11h2v1h-2z"/><path fill="#bf1746" d="M55 11h1v1h-1z"/><path fill="#c01846" d="M56 11h1v1h-1z"/><path fill="#c01645" d="M57 11h1v1h-1zM56 12h1v1h-1z"/><path fill="#bf1241" d="M58 11h1v1h-1z"/><path fill="#c00e3e" d="M59 11h1v1h-1z"/><path fill="#c40a3a" d="M61 11h1v1h-1z"/><path fill="#6b14a1" d="M2 12h3v1h-3zM0 13h1v1h-1zM5 13h1v1h-1zM0 16h1v1h-1zM0 17h1v1h-1zM5 17h1v1h-1zM1 18h4v1h-4zM26 18h1v1h-1z"/><path fill="#6c15a2" d="M5 12h1v1h-1zM6 13h1v1h-1zM6 14h1v1h-1zM25 18h1v1h-1zM28 18h1v1h-1z"/><path fill="#6e16a3" d="M7 12h1v1h-1zM7 13h1v1h-1zM8 15h1v1h-1zM20 18h1v1h-1z"/><path fill="#c3275b" d="M21 12h3v1h-3z"/><path fill="#c3285b" d="M24 12h1v1h-1z"/><path fill="#c4295c" d="M25 12h2v1h-2z"/><path fill="#c42a5d" d="M27 12h1v1h-1z"/><path fill="#c42b5e" d="M28 12h1v1h-1zM37 13h1v1h-1z"/><path fill="#c42c5e" d="M29 12h1v1h-1zM32 12h1v1h-1z"/><path fill="#c42c5f" d="M30 12h2v1h-2zM36 13h1v1h-1z"/><path fill="#c3295b" d="M33 12h1v1h-1zM40 14h1v1h-1z"/><path fill="#c32557" d="M34 12h1v1h-1z"/><path fill="#bf1949" d="M49 12h1v1h-1z"/><path fill="#bf1848" d="M51 12h1v1h-1z"/><path fill="#bf1748" d="M52 12h1v1h-1z"/><path fill="#c01747" d="M53 12h1v1h-1zM54 13h1v1h-1z"/><path fill="#c01646" d="M54 12h2v1h-2zM55 13h1v1h-1z"/><path fill="#c01444" d="M57 12h1v1h-1z"/><path fill="#c01242" d="M58 12h1v1h-1z"/><path fill="#c11040" d="M59 12h1v1h-1z"/><path fill="#c20e3e" d="M60 12h1v1h-1z"/><path fill="#c30d3d" d="M61 12h1v1h-1z"/><path fill="#c40c3c" d="M62 12h2v1h-2z"/><path fill="#6b13a1" d="M1 13h1v1h-1zM0 14h1v1h-1zM5 14h1v1h-1zM0 15h1v1h-1zM1 17h1v1h-1z"/><path fill="#6a13a1" d="M2 13h1v1h-1zM4 13h1v1h-1zM5 15h1v1h-1zM5 16h1v1h-1zM2 17h3v1h-3z"/><path fill="#6a12a1" d="M3 13h1v1h-1zM1 14h1v1h-1zM1 15h1v1h-1zM1 16h1v1h-1z"/><path fill="#6f18a4" d="M9 13h1v1h-1zM12 13h3v1h-3zM10 14h6v1h-6zM12 15h5v1h-5zM12 16h6v1h-6zM12 17h7v1h-7zM11 18h1v1h-1zM17 18h2v1h-2zM18 19h2v1h-2zM32 19h1v1h-1zM20 20h1v1h-1zM10 22h1v1h-1z"/><path fill="#7921a3" d="M15 13h1v1h-1zM16 14h1v1h-1zM17 15h1v1h-1z"/><path fill="#c43b72" d="M21 13h4v1h-4zM56 28h1v1h-1z"/><path fill="#c43c73" d="M25 13h3v1h-3zM55 26h1v1h-1z"/><path fill="#c43d74" d="M28 13h5v1h-5zM33 14h3v1h-3z"/><path fill="#c43469" d="M33 13h1v1h-1z"/><path fill="#c32b5e" d="M34 13h2v1h-2z"/><path fill="#c4285a" d="M38 13h1v1h-1z"/><path fill="#c32153" d="M40 13h1v1h-1zM54 20h1v1h-1z"/><path fill="#c0194a" d="M49 13h1v1h-1z"/><path fill="#c01949" d="M50 13h1v1h-1z"/><path fill="#c11849" d="M51 13h2v1h-2z"/><path fill="#c11748" d="M53 13h1v1h-1z"/><path fill="#c01545" d="M56 13h1v1h-1z"/><path fill="#c11444" d="M57 13h1v1h-1zM57 14h1v1h-1z"/><path fill="#c11343" d="M58 13h1v1h-1z"/><path fill="#c11141" d="M59 13h1v1h-1z"/><path fill="#c21040" d="M60 13h1v1h-1z"/><path fill="#c30f3f" d="M61 13h1v1h-1z"/><path fill="#c30e3e" d="M62 13h2v1h-2z"/><path fill="#6911a0" d="M2 14h3v1h-3zM2 15h1v1h-1zM4 15h1v1h-1zM2 16h2v1h-2z"/><path fill="#c43e75" d="M36 14h1v1h-1zM37 15h2v1h-2z"/><path fill="#c4356a" d="M37 14h1v1h-1z"/><path fill="#c42d61" d="M38 14h1v1h-1z"/><path fill="#c42c60" d="M39 14h1v1h-1z"/><path fill="#c32355" d="M41 14h1v1h-1zM52 18h1v1h-1z"/><path fill="#c11a4b" d="M48 14h1v1h-1zM47 15h2v1h-2z"/><path fill="#c1194a" d="M49 14h2v1h-2z"/><path fill="#c2194b" d="M52 14h1v1h-1z"/><path fill="#c2194a" d="M53 14h1v1h-1zM54 15h1v1h-1z"/><path fill="#c11848" d="M54 14h1v1h-1z"/><path fill="#c11647" d="M55 14h1v1h-1z"/><path fill="#c11545" d="M56 14h1v1h-1z"/><path fill="#c21343" d="M58 14h1v1h-1z"/><path fill="#c21242" d="M59 14h1v1h-1z"/><path fill="#c31141" d="M60 14h1v1h-1z"/><path fill="#c31041" d="M61 14h1v1h-1z"/><path fill="#c31040" d="M62 14h2v1h-2z"/><path fill="#6810a0" d="M3 15h1v1h-1z"/><path fill="#6c14a2" d="M6 15h1v1h-1zM22 18h1v1h-1zM27 18h1v1h-1z"/><path fill="#6f18a3" d="M11 15h1v1h-1zM11 16h1v1h-1zM11 17h1v1h-1zM10 19h1v1h-1zM10 20h1v1h-1zM10 21h1v1h-1z"/><path fill="#9d3ea0" d="M24 15h2v1h-2z"/><path fill="#9c3ea0" d="M26 15h2v1h-2z"/><path fill="#c43d75" d="M39 15h1v1h-1z"/><path fill="#c33368" d="M40 15h1v1h-1z"/><path fill="#c3295d" d="M41 15h1v1h-1z"/><path fill="#c22153" d="M43 15h1v1h-1z"/><path fill="#c21748" d="M55 15h1v1h-1z"/><path fill="#c21646" d="M56 15h1v1h-1z"/><path fill="#c31344" d="M58 15h1v1h-1z"/><path fill="#c31243" d="M59 15h1v1h-1z"/><path fill="#c41242" d="M60 15h1v1h-1zM63 16h1v1h-1z"/><path fill="#c41142" d="M61 15h1v1h-1z"/><path fill="#c41141" d="M62 15h2v1h-2z"/><path fill="#6912a0" d="M4 16h1v1h-1z"/><path fill="#6c16a2" d="M7 16h1v1h-1zM7 17h1v1h-1zM8 19h1v1h-1zM7 22h1v1h-1z"/><path fill="#852aa2" d="M20 16h2v1h-2z"/><path fill="#842aa1" d="M22 16h2v1h-2zM29 16h1v1h-1z"/><path fill="#8429a1" d="M24 16h1v1h-1zM28 16h1v1h-1z"/><path fill="#8328a0" d="M25 16h3v1h-3z"/><path fill="#842aa2" d="M30 16h1v1h-1z"/><path fill="#872da2" d="M31 16h1v1h-1z"/><path fill="#9f41a1" d="M34 16h2v1h-2z"/><path fill="#b04fa0" d="M36 16h1v1h-1z"/><path fill="#c33c73" d="M40 16h2v1h-2z"/><path fill="#c33266" d="M42 16h1v1h-1z"/><path fill="#c2285b" d="M43 16h1v1h-1z"/><path fill="#c22051" d="M45 16h1v1h-1z"/><path fill="#c31646" d="M56 16h1v1h-1zM56 17h1v1h-1z"/><path fill="#c31545" d="M57 16h1v1h-1z"/><path fill="#c41344" d="M58 16h1v1h-1z"/><path fill="#c51242" d="M59 16h4v1h-4zM63 17h1v1h-1z"/><path fill="#6e17a4" d="M19 17h1v1h-1zM19 18h1v1h-1zM20 19h1v1h-1zM24 19h1v1h-1zM21 20h3v1h-3zM27 20h2v1h-2z"/><path fill="#741ca3" d="M20 17h1v1h-1z"/><path fill="#741ba2" d="M21 17h1v1h-1zM23 17h1v1h-1z"/><path fill="#731ba2" d="M22 17h1v1h-1zM24 17h1v1h-1zM28 17h1v1h-1z"/><path fill="#7219a1" d="M25 17h1v1h-1zM27 17h1v1h-1z"/><path fill="#7118a0" d="M26 17h1v1h-1z"/><path fill="#721ba2" d="M29 17h2v1h-2z"/><path fill="#761ea2" d="M31 17h1v1h-1z"/><path fill="#8027a2" d="M32 17h1v1h-1z"/><path fill="#862ca3" d="M33 17h1v1h-1z"/><path fill="#872ea3" d="M34 17h1v1h-1z"/><path fill="#8b31a4" d="M35 17h1v1h-1z"/><path fill="#983ba3" d="M36 17h1v1h-1z"/><path fill="#a042a2" d="M37 17h1v1h-1z"/><path fill="#a043a2" d="M38 17h1v1h-1z"/><path fill="#b050a0" d="M39 17h1v1h-1z"/><path fill="#c33b72" d="M42 17h2v1h-2z"/><path fill="#c33065" d="M44 17h1v1h-1z"/><path fill="#c22659" d="M45 17h1v1h-1z"/><path fill="#c22355" d="M46 17h1v1h-1z"/><path fill="#c21f50" d="M47 17h1v1h-1z"/><path fill="#c41545" d="M57 17h1v1h-1zM57 18h1v1h-1z"/><path fill="#c51343" d="M58 17h1v1h-1zM63 18h1v1h-1zM63 19h1v1h-1z"/><path fill="#c61242" d="M59 17h1v1h-1zM62 17h1v1h-1zM62 18h1v1h-1zM59 19h1v1h-1z"/><path fill="#c71141" d="M60 17h2v1h-2zM59 18h1v1h-1zM61 18h1v1h-1zM60 19h1v1h-1z"/><path fill="#6b15a1" d="M5 18h2v1h-2zM3 19h3v1h-3zM7 19h1v1h-1zM4 20h1v1h-1zM5 21h1v1h-1zM7 21h1v1h-1z"/><path fill="#7019a4" d="M15 18h2v1h-2zM15 19h3v1h-3zM15 20h1v1h-1zM14 21h1v1h-1zM11 22h4v1h-4zM11 23h2v1h-2z"/><path fill="#6c15a3" d="M23 18h1v1h-1z"/><path fill="#6d16a3" d="M24 18h1v1h-1zM21 19h1v1h-1zM23 19h1v1h-1zM27 19h2v1h-2z"/><path fill="#6b15a2" d="M29 18h1v1h-1zM31 18h1v1h-1z"/><path fill="#6a14a2" d="M30 18h1v1h-1z"/><path fill="#6d17a4" d="M32 18h1v1h-1zM26 19h1v1h-1zM29 20h2v1h-2z"/><path fill="#771fa4" d="M33 18h1v1h-1z"/><path fill="#7921a5" d="M34 18h1v1h-1z"/><path fill="#7d25a5" d="M35 18h1v1h-1z"/><path fill="#862da5" d="M36 18h1v1h-1z"/><path fill="#8a31a5" d="M37 18h1v1h-1z"/><path fill="#8d33a5" d="M38 18h1v1h-1z"/><path fill="#993da3" d="M39 18h1v1h-1z"/><path fill="#a143a2" d="M40 18h1v1h-1z"/><path fill="#b150a0" d="M41 18h1v1h-1z"/><path fill="#c22558" d="M47 18h2v1h-2z"/><path fill="#c32558" d="M49 18h2v1h-2z"/><path fill="#c31e50" d="M53 18h1v1h-1z"/><path fill="#c31949" d="M54 18h1v1h-1z"/><path fill="#c41647" d="M56 18h1v1h-1zM56 19h1v1h-1z"/><path fill="#c61343" d="M58 18h1v1h-1zM62 19h1v1h-1z"/><path fill="#c81040" d="M60 18h1v1h-1z"/><path fill="#6c16a1" d="M0 19h1v1h-1zM0 20h4v1h-4zM8 20h1v1h-1zM3 21h2v1h-2zM5 22h2v1h-2z"/><path fill="#6b14a0" d="M6 19h1v1h-1z"/><path fill="#6d15a3" d="M22 19h1v1h-1z"/><path fill="#6e17a5" d="M25 19h1v1h-1z"/><path fill="#6c16a3" d="M29 19h1v1h-1zM31 19h1v1h-1z"/><path fill="#6b15a3" d="M30 19h1v1h-1z"/><path fill="#711ba5" d="M33 19h1v1h-1zM17 22h1v1h-1zM30 22h1v1h-1zM16 23h1v1h-1zM13 24h3v1h-3zM9 25h1v1h-1zM13 25h2v1h-2z"/><path fill="#741da7" d="M34 19h1v1h-1zM27 25h3v1h-3zM26 26h1v1h-1zM24 27h1v1h-1zM24 28h1v1h-1z"/><path fill="#751fa7" d="M35 19h1v1h-1zM32 23h1v1h-1zM32 24h1v1h-1zM32 25h1v1h-1zM30 26h2v1h-2zM25 31h2v1h-2zM25 32h2v1h-2zM25 33h3v1h-3zM26 34h1v1h-1zM26 35h1v1h-1zM26 36h1v1h-1z"/><path fill="#7620a8" d="M36 19h1v1h-1zM34 20h1v1h-1zM33 24h1v1h-1zM33 25h1v1h-1zM33 26h1v1h-1zM33 27h1v1h-1zM32 28h2v1h-2zM31 29h3v1h-3zM30 30h2v1h-2zM29 31h2v1h-2zM29 32h1v1h-1zM29 33h1v1h-1zM29 36h1v1h-1zM29 37h1v1h-1z"/><path fill="#7c25a7" d="M37 19h1v1h-1z"/><path fill="#7f28a7" d="M38 19h1v1h-1z"/><path fill="#872ea6" d="M39 19h1v1h-1z"/><path fill="#8e34a5" d="M40 19h1v1h-1z"/><path fill="#9a3da3" d="M41 19h1v1h-1z"/><path fill="#a144a3" d="M42 19h1v1h-1z"/><path fill="#b151a1" d="M43 19h1v1h-1zM45 20h1v1h-1z"/><path fill="#c32f63" d="M52 19h1v1h-1z"/><path fill="#c32154" d="M53 19h1v1h-1z"/><path fill="#c41646" d="M57 19h1v1h-1z"/><path fill="#c51444" d="M58 19h1v1h-1zM63 20h1v1h-1z"/><path fill="#c71242" d="M61 19h1v1h-1z"/><path fill="#6a14a0" d="M5 20h2v1h-2z"/><path fill="#6b15a0" d="M7 20h1v1h-1zM6 21h1v1h-1z"/><path fill="#7019a5" d="M16 20h4v1h-4zM15 21h1v1h-1zM21 21h1v1h-1zM23 22h1v1h-1zM27 22h2v1h-2z"/><path fill="#6e18a5" d="M24 20h1v1h-1zM26 20h1v1h-1zM24 21h1v1h-1zM26 21h1v1h-1z"/><path fill="#6e18a6" d="M25 20h1v1h-1zM25 21h1v1h-1z"/><path fill="#6e18a4" d="M31 20h1v1h-1z"/><path fill="#711aa5" d="M32 20h1v1h-1zM17 21h3v1h-3zM31 21h1v1h-1zM16 22h1v1h-1zM15 23h1v1h-1zM27 23h1v1h-1zM12 24h1v1h-1z"/><path fill="#731da7" d="M33 20h1v1h-1zM19 23h1v1h-1zM21 23h1v1h-1zM18 24h1v1h-1zM18 25h2v1h-2zM21 25h1v1h-1zM18 26h5v1h-5zM25 26h1v1h-1zM18 27h6v1h-6zM18 28h6v1h-6zM15 29h8v1h-8z"/><path fill="#7721a8" d="M35 20h5v1h-5zM39 21h1v1h-1zM33 22h1v1h-1zM33 23h1v1h-1zM34 25h2v1h-2zM35 26h1v1h-1zM35 27h1v1h-1zM35 28h1v1h-1zM34 29h2v1h-2zM34 30h2v1h-2zM32 31h4v1h-4zM31 32h5v1h-5zM30 33h1v1h-1zM30 34h1v1h-1zM30 35h1v1h-1zM30 36h3v1h-3zM34 36h1v1h-1zM31 37h5v1h-5z"/><path fill="#8029a7" d="M40 20h1v1h-1z"/><path fill="#882fa6" d="M41 20h1v1h-1z"/><path fill="#8e35a5" d="M42 20h1v1h-1z"/><path fill="#9a3ea4" d="M43 20h1v1h-1z"/><path fill="#a245a3" d="M44 20h1v1h-1z"/><path fill="#c32e63" d="M53 20h1v1h-1z"/><path fill="#c41747" d="M56 20h2v1h-2z"/><path fill="#c51646" d="M58 20h1v1h-1zM60 21h1v1h-1zM60 22h1v1h-1zM60 23h1v1h-1z"/><path fill="#c51545" d="M59 20h1v1h-1z"/><path fill="#c61444" d="M60 20h1v1h-1zM62 20h1v1h-1z"/><path fill="#c61344" d="M61 20h1v1h-1z"/><path fill="#6d17a1" d="M0 21h1v1h-1zM0 22h1v1h-1z"/><path fill="#6c17a1" d="M1 21h2v1h-2zM1 22h4v1h-4zM5 23h1v1h-1z"/><path fill="#701aa5" d="M16 21h1v1h-1zM20 21h1v1h-1zM15 22h1v1h-1zM29 22h1v1h-1zM13 23h2v1h-2zM25 23h2v1h-2zM10 24h2v1h-2z"/><path fill="#6f18a5" d="M22 21h2v1h-2zM27 21h2v1h-2z"/><path fill="#6f19a4" d="M29 21h1v1h-1zM10 23h1v1h-1z"/><path fill="#6f19a5" d="M30 21h1v1h-1zM24 22h3v1h-3z"/><path fill="#731da6" d="M32 21h1v1h-1zM31 23h1v1h-1zM30 24h1v1h-1z"/><path fill="#761fa8" d="M33 21h1v1h-1zM27 30h1v1h-1z"/><path fill="#7822a9" d="M34 21h1v1h-1zM37 21h1v1h-1zM37 22h5v1h-5zM37 23h4v1h-4zM35 24h4v1h-4zM36 25h2v1h-2zM37 26h1v1h-1zM37 27h1v1h-1zM37 28h1v1h-1zM37 29h1v1h-1zM37 30h1v1h-1z"/><path fill="#7923aa" d="M35 21h1v1h-1zM36 22h1v1h-1zM35 23h1v1h-1z"/><path fill="#7923a9" d="M36 21h1v1h-1zM34 22h1v1h-1zM36 23h1v1h-1zM42 23h1v1h-1zM40 24h2v1h-2zM39 25h2v1h-2zM38 26h1v1h-1zM38 27h1v1h-1zM38 28h1v1h-1zM38 29h2v1h-2zM38 30h2v1h-2zM39 31h1v1h-1zM39 32h1v1h-1zM39 33h1v1h-1zM39 34h1v1h-1zM39 35h1v1h-1zM39 36h1v1h-1z"/><path fill="#7722a8" d="M38 21h1v1h-1zM40 21h1v1h-1zM34 33h2v1h-2zM35 34h1v1h-1zM35 35h1v1h-1zM33 36h1v1h-1zM35 36h2v1h-2zM36 37h1v1h-1z"/><path fill="#7822a8" d="M41 21h1v1h-1zM36 26h1v1h-1zM36 27h1v1h-1zM36 28h1v1h-1zM36 29h1v1h-1zM36 30h1v1h-1zM36 31h2v1h-2zM36 32h2v1h-2zM31 33h3v1h-3zM36 33h2v1h-2zM31 34h4v1h-4zM36 34h2v1h-2zM31 35h4v1h-4zM36 35h2v1h-2zM37 36h1v1h-1zM37 37h2v1h-2z"/><path fill="#812aa7" d="M42 21h1v1h-1z"/><path fill="#8931a6" d="M43 21h1v1h-1z"/><path fill="#8f36a6" d="M44 21h1v1h-1zM47 22h1v1h-1z"/><path fill="#9b3fa4" d="M45 21h1v1h-1z"/><path fill="#a346a3" d="M46 21h5v1h-5z"/><path fill="#b252a1" d="M51 21h1v1h-1zM52 22h1v1h-1zM53 24h1v1h-1z"/><path fill="#c4396f" d="M53 21h1v1h-1zM54 22h1v1h-1z"/><path fill="#c42e62" d="M54 21h1v1h-1z"/><path fill="#c42153" d="M55 21h1v1h-1z"/><path fill="#c41848" d="M56 21h2v1h-2zM57 22h3v1h-3zM58 23h2v1h-2z"/><path fill="#c41748" d="M58 21h1v1h-1z"/><path fill="#c51747" d="M59 21h1v1h-1z"/><path fill="#c61545" d="M61 21h2v1h-2zM61 22h3v1h-3z"/><path fill="#c61445" d="M63 21h1v1h-1z"/><path fill="#6d17a2" d="M8 22h1v1h-1zM6 23h1v1h-1z"/><path fill="#6e18a3" d="M9 22h1v1h-1zM8 23h1v1h-1z"/><path fill="#711ba6" d="M18 22h1v1h-1zM21 22h1v1h-1zM28 23h1v1h-1zM16 24h1v1h-1zM24 24h2v1h-2zM15 25h1v1h-1z"/><path fill="#721ca6" d="M19 22h2v1h-2zM31 22h1v1h-1zM30 23h1v1h-1zM17 24h1v1h-1zM16 25h2v1h-2zM23 25h3v1h-3zM13 26h5v1h-5zM15 27h2v1h-2z"/><path fill="#701aa6" d="M22 22h1v1h-1zM24 23h1v1h-1z"/><path fill="#741ea7" d="M32 22h1v1h-1zM31 24h1v1h-1zM30 25h1v1h-1zM25 27h1v1h-1zM23 29h2v1h-2zM23 30h2v1h-2zM22 31h3v1h-3zM21 32h2v1h-2z"/><path fill="#7a24aa" d="M35 22h1v1h-1zM40 26h2v1h-2zM39 27h4v1h-4zM39 28h4v1h-4zM40 29h1v1h-1z"/><path fill="#7823a9" d="M42 22h1v1h-1zM41 23h1v1h-1zM39 24h1v1h-1zM38 25h1v1h-1zM38 31h1v1h-1zM38 32h1v1h-1z"/><path fill="#7924a9" d="M43 22h1v1h-1zM43 23h1v1h-1zM42 24h2v1h-2zM41 25h2v1h-2zM40 30h1v1h-1zM40 31h1v1h-1zM40 32h1v1h-1zM40 34h1v1h-1zM40 35h1v1h-1zM40 36h1v1h-1zM40 37h2v1h-2z"/><path fill="#822ca8" d="M44 22h1v1h-1z"/><path fill="#8a32a7" d="M45 22h1v1h-1z"/><path fill="#8e36a6" d="M46 22h1v1h-1z"/><path fill="#8f37a7" d="M48 22h2v1h-2z"/><path fill="#9138a6" d="M50 22h1v1h-1z"/><path fill="#9c41a4" d="M51 22h1v1h-1zM52 24h1v1h-1z"/><path fill="#6d18a1" d="M0 23h1v1h-1zM0 24h2v1h-2zM5 24h1v1h-1zM0 25h2v1h-2zM4 25h1v1h-1zM1 26h3v1h-3z"/><path fill="#6c18a1" d="M1 23h1v1h-1zM4 23h1v1h-1zM2 25h1v1h-1z"/><path fill="#6c18a0" d="M2 23h2v1h-2zM2 24h3v1h-3zM3 25h1v1h-1z"/><path fill="#6d18a2" d="M7 23h1v1h-1zM6 24h1v1h-1zM5 25h1v1h-1zM0 26h1v1h-1z"/><path fill="#6f19a3" d="M9 23h1v1h-1zM8 24h1v1h-1z"/><path fill="#721ba6" d="M17 23h1v1h-1zM22 23h1v1h-1zM29 23h1v1h-1zM23 24h1v1h-1zM26 24h2v1h-2z"/><path fill="#721ca7" d="M18 23h1v1h-1zM22 24h1v1h-1z"/><path fill="#731da8" d="M20 23h1v1h-1zM21 24h1v1h-1z"/><path fill="#711aa6" d="M23 23h1v1h-1z"/><path fill="#7922a9" d="M34 23h1v1h-1z"/><path fill="#7a25a9" d="M44 23h1v1h-1zM44 24h1v1h-1zM44 25h1v1h-1zM44 26h1v1h-1zM44 27h1v1h-1zM44 28h1v1h-1zM43 29h2v1h-2zM42 30h2v1h-2zM42 31h1v1h-1zM41 32h1v1h-1zM41 33h1v1h-1zM41 34h1v1h-1zM41 35h1v1h-1zM42 36h1v1h-1zM42 37h2v1h-2z"/><path fill="#7a26a9" d="M45 23h1v1h-1zM45 26h1v1h-1zM45 27h1v1h-1z"/><path fill="#812ba9" d="M46 23h1v1h-1z"/><path fill="#812ca9" d="M47 23h1v1h-1z"/><path fill="#822ca9" d="M48 23h2v1h-2z"/><path fill="#842ea8" d="M50 23h1v1h-1z"/><path fill="#9139a6" d="M51 23h1v1h-1z"/><path fill="#a347a3" d="M52 23h1v1h-1z"/><path fill="#c43970" d="M54 23h1v1h-1z"/><path fill="#c42f63" d="M55 23h1v1h-1z"/><path fill="#c41849" d="M57 23h1v1h-1z"/><path fill="#c71545" d="M61 23h1v1h-1zM61 24h1v1h-1zM61 25h1v1h-1zM63 25h1v1h-1z"/><path fill="#c71444" d="M62 23h1v1h-1zM62 25h1v1h-1z"/><path fill="#c71445" d="M63 23h1v1h-1z"/><path fill="#6e19a3" d="M7 24h1v1h-1z"/><path fill="#701aa4" d="M9 24h1v1h-1z"/><path fill="#741da8" d="M19 24h1v1h-1z"/><path fill="#741ea8" d="M20 24h1v1h-1zM20 25h1v1h-1z"/><path fill="#731ca6" d="M28 24h2v1h-2zM26 25h1v1h-1zM23 26h2v1h-2z"/><path fill="#7721a9" d="M34 24h1v1h-1z"/><path fill="#7b26a9" d="M45 24h1v1h-1zM45 25h1v1h-1zM45 28h1v1h-1zM45 29h1v1h-1zM44 36h1v1h-1zM45 37h2v1h-2z"/><path fill="#7b27aa" d="M46 24h1v1h-1zM46 25h1v1h-1zM46 26h2v1h-2zM47 27h1v1h-1zM47 28h1v1h-1zM46 30h1v1h-1zM46 31h1v1h-1z"/><path fill="#7c28aa" d="M47 24h4v1h-4zM47 25h4v1h-4zM48 26h2v1h-2zM48 27h1v1h-1zM47 29h1v1h-1zM47 30h1v1h-1zM47 31h1v1h-1zM48 34h1v1h-1zM48 35h1v1h-1zM48 36h1v1h-1zM48 37h1v1h-1z"/><path fill="#8c34a7" d="M51 24h1v1h-1z"/><path fill="#c42759" d="M56 24h1v1h-1z"/><path fill="#c41a4a" d="M57 24h1v1h-1z"/><path fill="#c41949" d="M58 24h1v1h-1z"/><path fill="#c51848" d="M59 24h1v1h-1z"/><path fill="#c61646" d="M60 24h1v1h-1z"/><path fill="#c81444" d="M62 24h2v1h-2z"/><path fill="#6e19a2" d="M6 25h1v1h-1zM5 26h1v1h-1zM2 27h3v1h-3z"/><path fill="#6f1aa3" d="M7 25h1v1h-1zM6 26h1v1h-1zM5 27h1v1h-1zM4 28h1v1h-1z"/><path fill="#701ba4" d="M8 25h1v1h-1zM7 26h1v1h-1zM6 27h1v1h-1zM6 28h1v1h-1zM5 29h1v1h-1z"/><path fill="#711ca5" d="M10 25h1v1h-1zM12 25h1v1h-1zM8 26h1v1h-1zM7 27h1v1h-1zM6 29h1v1h-1zM6 30h1v1h-1z"/><path fill="#711ca6" d="M11 25h1v1h-1z"/><path fill="#731ca7" d="M22 25h1v1h-1z"/><path fill="#751ea7" d="M31 25h1v1h-1zM27 26h1v1h-1zM25 28h1v1h-1zM25 29h1v1h-1zM25 30h1v1h-1z"/><path fill="#7a24a9" d="M43 25h1v1h-1zM42 26h2v1h-2zM43 27h1v1h-1zM43 28h1v1h-1zM41 29h2v1h-2zM41 30h1v1h-1zM41 31h1v1h-1zM40 33h1v1h-1zM41 36h1v1h-1z"/><path fill="#852fa8" d="M51 25h1v1h-1z"/><path fill="#9239a6" d="M52 25h1v1h-1z"/><path fill="#a447a3" d="M53 25h1v1h-1z"/><path fill="#c43c72" d="M55 25h1v1h-1zM55 27h1v1h-1z"/><path fill="#c4295b" d="M56 25h1v1h-1zM57 27h1v1h-1z"/><path fill="#c41d4d" d="M57 25h1v1h-1z"/><path fill="#c41b4b" d="M58 25h1v1h-1z"/><path fill="#c51949" d="M59 25h1v1h-1z"/><path fill="#c61747" d="M60 25h1v1h-1z"/><path fill="#6d19a1" d="M4 26h1v1h-1z"/><path fill="#721da6" d="M9 26h1v1h-1zM11 26h2v1h-2zM8 27h1v1h-1zM13 27h2v1h-2zM17 27h1v1h-1zM14 28h4v1h-4zM7 29h1v1h-1zM7 30h1v1h-1zM7 31h2v1h-2zM8 32h2v1h-2zM9 33h2v1h-2z"/><path fill="#721ea7" d="M10 26h1v1h-1z"/><path fill="#761fa7" d="M28 26h2v1h-2zM32 26h1v1h-1zM30 27h3v1h-3zM26 28h1v1h-1zM31 28h1v1h-1zM26 29h1v1h-1zM26 30h1v1h-1zM27 31h2v1h-2zM27 32h1v1h-1z"/><path fill="#7720a8" d="M34 26h1v1h-1zM28 27h1v1h-1zM34 27h1v1h-1zM27 28h1v1h-1zM29 28h1v1h-1zM34 28h1v1h-1zM29 29h2v1h-2zM29 30h1v1h-1zM32 30h2v1h-2zM31 31h1v1h-1zM30 32h1v1h-1z"/><path fill="#7924aa" d="M39 26h1v1h-1z"/><path fill="#7c29aa" d="M50 26h1v1h-1zM49 27h1v1h-1zM48 28h1v1h-1zM48 29h1v1h-1zM48 30h1v1h-1zM48 31h1v1h-1zM48 32h1v1h-1zM48 33h1v1h-1zM49 37h1v1h-1z"/><path fill="#822ea9" d="M51 26h1v1h-1z"/><path fill="#9039a6" d="M52 26h1v1h-1z"/><path fill="#a448a3" d="M53 26h1v1h-1z"/><path fill="#c42a5c" d="M56 26h1v1h-1z"/><path fill="#bb6599" d="M58 26h6v1h-6zM58 27h6v1h-6zM58 28h6v1h-6zM58 29h6v1h-6zM58 30h6v1h-6zM58 31h6v1h-6zM58 32h6v1h-6zM58 33h6v1h-6zM58 34h6v1h-6zM58 35h6v1h-6zM58 36h6v1h-6zM58 37h6v1h-6z"/><path fill="#4848ff" d="M0 27h1v1h-1zM0 28h1v1h-1zM0 33h1v1h-1z"/><path fill="#4949ff" d="M1 27h1v1h-1zM1 28h1v1h-1zM0 29h1v1h-1z"/><path fill="#731fa7" d="M9 27h1v1h-1zM11 27h1v1h-1zM9 29h1v1h-1zM11 29h1v1h-1zM10 30h1v1h-1zM15 31h4v1h-4zM14 32h1v1h-1zM19 32h1v1h-1zM13 33h1v1h-1zM13 34h2v1h-2zM14 35h1v1h-1zM15 36h1v1h-1z"/><path fill="#741fa8" d="M10 27h1v1h-1zM9 28h1v1h-1zM11 28h1v1h-1zM15 32h1v1h-1zM17 32h1v1h-1zM18 33h1v1h-1zM18 34h1v1h-1zM21 34h3v1h-3zM16 35h2v1h-2zM20 35h1v1h-1zM24 35h1v1h-1zM20 36h1v1h-1zM25 36h1v1h-1zM25 37h1v1h-1z"/><path fill="#731ea7" d="M12 27h1v1h-1zM8 28h1v1h-1zM12 28h2v1h-2zM8 29h1v1h-1zM12 29h3v1h-3zM9 30h1v1h-1zM11 30h12v1h-12zM10 31h5v1h-5zM19 31h3v1h-3zM11 32h3v1h-3zM20 32h1v1h-1zM11 33h2v1h-2zM11 34h2v1h-2zM13 35h1v1h-1z"/><path fill="#761ea7" d="M26 27h1v1h-1z"/><path fill="#771fa8" d="M27 27h1v1h-1zM29 27h1v1h-1zM30 28h1v1h-1zM27 29h1v1h-1zM28 30h1v1h-1z"/><path fill="#7b27a9" d="M46 27h1v1h-1zM46 28h1v1h-1zM46 29h1v1h-1zM47 37h1v1h-1z"/><path fill="#7d2aaa" d="M50 27h1v1h-1zM49 28h1v1h-1zM49 33h1v1h-1zM49 34h1v1h-1zM50 37h1v1h-1z"/><path fill="#832fa9" d="M51 27h1v1h-1z"/><path fill="#913aa7" d="M52 27h1v1h-1z"/><path fill="#a449a3" d="M53 27h1v1h-1z"/><path fill="#c43367" d="M56 27h1v1h-1z"/><path fill="#4a4aff" d="M2 28h1v1h-1zM1 29h1v1h-1zM2 33h1v1h-1zM6 33h2v1h-2zM3 34h1v1h-1z"/><path fill="#4b4bff" d="M3 28h1v1h-1zM0 30h1v1h-1zM6 31h1v1h-1zM0 32h1v1h-1zM5 32h1v1h-1zM5 33h1v1h-1zM6 34h1v1h-1zM3 35h1v1h-1z"/><path fill="#6f1aa4" d="M5 28h1v1h-1z"/><path fill="#711da6" d="M7 28h1v1h-1z"/><path fill="#7420a8" d="M10 28h1v1h-1zM10 29h1v1h-1zM16 32h1v1h-1zM15 33h3v1h-3zM15 34h3v1h-3zM21 35h3v1h-3zM21 36h4v1h-4zM21 37h4v1h-4z"/><path fill="#7820a8" d="M28 28h1v1h-1zM28 29h1v1h-1z"/><path fill="#7e2baa" d="M50 28h1v1h-1zM50 34h1v1h-1z"/><path fill="#7e2daa" d="M51 28h1v1h-1zM50 29h1v1h-1zM50 31h1v1h-1zM51 34h1v1h-1z"/><path fill="#8e39a7" d="M52 28h1v1h-1z"/><path fill="#9e44a5" d="M53 28h1v1h-1zM55 30h1v1h-1z"/><path fill="#b353a1" d="M54 28h1v1h-1zM55 29h1v1h-1z"/><path fill="#c43b71" d="M57 28h1v1h-1z"/><path fill="#4c4cff" d="M2 29h3v1h-3zM5 30h1v1h-1zM0 31h1v1h-1zM4 32h1v1h-1zM4 33h1v1h-1z"/><path fill="#7d2baa" d="M49 29h1v1h-1zM49 30h1v1h-1zM49 31h1v1h-1zM49 32h1v1h-1zM50 35h1v1h-1zM50 36h1v1h-1z"/><path fill="#7f2faa" d="M51 29h1v1h-1zM51 31h1v1h-1zM53 32h1v1h-1z"/><path fill="#8835a9" d="M52 29h1v1h-1zM53 30h1v1h-1z"/><path fill="#943ea6" d="M53 29h1v1h-1z"/><path fill="#9e45a5" d="M54 29h1v1h-1z"/><path fill="#4d4dff" d="M1 30h1v1h-1zM4 30h1v1h-1zM4 31h1v1h-1zM1 32h1v1h-1zM3 32h1v1h-1zM4 34h2v1h-2z"/><path fill="#4e4fff" d="M2 30h1v1h-1zM12 36h2v1h-2z"/><path fill="#4e4eff" d="M3 30h1v1h-1zM1 31h1v1h-1zM2 32h1v1h-1z"/><path fill="#721ea6" d="M8 30h1v1h-1zM9 31h1v1h-1zM10 32h1v1h-1z"/><path fill="#7b25a9" d="M44 30h1v1h-1zM42 35h1v1h-1zM43 36h1v1h-1zM44 37h1v1h-1z"/><path fill="#7b26aa" d="M45 30h1v1h-1zM44 31h2v1h-2zM43 35h4v1h-4zM45 36h2v1h-2z"/><path fill="#7f2daa" d="M50 30h1v1h-1zM51 33h1v1h-1z"/><path fill="#802faa" d="M51 30h1v1h-1zM52 31h2v1h-2z"/><path fill="#8030aa" d="M52 30h1v1h-1z"/><path fill="#943da6" d="M54 30h1v1h-1z"/><path fill="#a549a3" d="M56 30h2v1h-2z"/><path fill="#5050ff" d="M2 31h1v1h-1zM6 35h1v1h-1zM12 37h1v1h-1z"/><path fill="#4f4fff" d="M3 31h1v1h-1zM13 37h1v1h-1z"/><path fill="#4b4cff" d="M5 31h1v1h-1zM3 33h1v1h-1z"/><path fill="#7b25aa" d="M43 31h1v1h-1zM42 32h1v1h-1zM42 33h1v1h-1zM42 34h1v1h-1z"/><path fill="#8834a9" d="M54 31h1v1h-1z"/><path fill="#8e39a8" d="M55 31h1v1h-1z"/><path fill="#923ba7" d="M56 31h1v1h-1z"/><path fill="#913ba7" d="M57 31h1v1h-1z"/><path fill="#4a4bff" d="M6 32h2v1h-2zM7 34h1v1h-1zM7 35h1v1h-1zM11 36h1v1h-1z"/><path fill="#741fa7" d="M18 32h1v1h-1zM23 32h2v1h-2zM14 33h1v1h-1zM19 33h6v1h-6zM19 34h2v1h-2zM24 34h2v1h-2zM15 35h1v1h-1zM18 35h2v1h-2zM25 35h1v1h-1zM16 36h4v1h-4z"/><path fill="#7620a7" d="M28 32h1v1h-1zM28 33h1v1h-1zM28 34h1v1h-1zM28 35h1v1h-1zM28 36h1v1h-1zM28 37h1v1h-1z"/><path fill="#7c26aa" d="M43 32h4v1h-4zM43 33h4v1h-4zM43 34h4v1h-4z"/><path fill="#7c27aa" d="M47 32h1v1h-1zM47 33h1v1h-1zM47 34h1v1h-1zM47 35h1v1h-1zM47 36h1v1h-1z"/><path fill="#7e2caa" d="M50 32h1v1h-1zM50 33h1v1h-1zM51 35h1v1h-1zM51 36h1v1h-1zM51 37h1v1h-1z"/><path fill="#7f2eaa" d="M51 32h2v1h-2zM52 33h1v1h-1z"/><path fill="#802fab" d="M54 32h2v1h-2zM53 33h1v1h-1zM57 33h1v1h-1zM53 34h1v1h-1zM53 37h1v1h-1zM57 37h1v1h-1z"/><path fill="#8533aa" d="M56 32h1v1h-1z"/><path fill="#8532aa" d="M57 32h1v1h-1z"/><path fill="#4849ff" d="M1 33h1v1h-1zM8 34h1v1h-1zM2 37h1v1h-1z"/><path fill="#494aff" d="M8 33h1v1h-1z"/><path fill="#7823a8" d="M38 33h1v1h-1zM38 34h1v1h-1zM38 35h1v1h-1zM38 36h1v1h-1zM39 37h1v1h-1z"/><path fill="#8030ab" d="M54 33h1v1h-1zM53 36h1v1h-1z"/><path fill="#8130ab" d="M55 33h2v1h-2zM57 34h1v1h-1zM53 35h1v1h-1zM57 36h1v1h-1zM54 37h1v1h-1zM56 37h1v1h-1z"/><path fill="#4444ff" d="M0 34h1v1h-1z"/><path fill="#4343ff" d="M1 34h1v1h-1zM2 35h1v1h-1zM0 36h1v1h-1z"/><path fill="#4646ff" d="M2 34h1v1h-1zM0 37h2v1h-2z"/><path fill="#4547ff" d="M9 34h1v1h-1z"/><path fill="#4648ff" d="M10 34h1v1h-1z"/><path fill="#7520a7" d="M27 34h1v1h-1zM27 35h1v1h-1zM27 36h1v1h-1zM26 37h2v1h-2z"/><path fill="#7621a8" d="M29 34h1v1h-1zM29 35h1v1h-1zM30 37h1v1h-1z"/><path fill="#7f2eab" d="M52 34h1v1h-1zM52 35h1v1h-1zM52 36h1v1h-1z"/><path fill="#8131ac" d="M54 34h1v1h-1zM56 34h1v1h-1zM54 36h1v1h-1zM56 36h1v1h-1z"/><path fill="#8231ac" d="M55 34h1v1h-1zM54 35h1v1h-1zM55 36h1v1h-1z"/><path fill="#4242ff" d="M0 35h1v1h-1zM1 36h1v1h-1z"/><path fill="#4040ff" d="M1 35h1v1h-1z"/><path fill="#5151ff" d="M4 35h1v1h-1z"/><path fill="#5353ff" d="M5 35h1v1h-1z"/><path fill="#4446ff" d="M8 35h1v1h-1z"/><path fill="#4043ff" d="M9 35h1v1h-1zM9 37h1v1h-1z"/><path fill="#4345ff" d="M10 35h1v1h-1z"/><path fill="#484aff" d="M11 35h1v1h-1z"/><path fill="#4c4dff" d="M12 35h1v1h-1zM3 36h1v1h-1z"/><path fill="#7d29aa" d="M49 35h1v1h-1zM49 36h1v1h-1z"/><path fill="#8232ac" d="M55 35h2v1h-2z"/><path fill="#8130ac" d="M57 35h1v1h-1zM55 37h1v1h-1z"/><path fill="#4546ff" d="M2 36h1v1h-1z"/><path fill="#5454ff" d="M4 36h1v1h-1z"/><path fill="#5858ff" d="M5 36h1v1h-1zM20 37h1v1h-1z"/><path fill="#5354ff" d="M6 36h1v1h-1z"/><path fill="#4a4cff" d="M7 36h1v1h-1zM7 37h1v1h-1z"/><path fill="#4144ff" d="M8 36h1v1h-1zM10 36h1v1h-1z"/><path fill="#3c40ff" d="M9 36h1v1h-1z"/><path fill="#4f50ff" d="M14 36h1v1h-1zM14 37h1v1h-1z"/><path fill="#4d4eff" d="M3 37h1v1h-1zM11 37h1v1h-1z"/><path fill="#5253ff" d="M4 37h1v1h-1z"/><path fill="#5555ff" d="M5 37h1v1h-1z"/><path fill="#5152ff" d="M6 37h1v1h-1z"/><path fill="#4346ff" d="M8 37h1v1h-1z"/><path fill="#4447ff" d="M10 37h1v1h-1z"/><path fill="#5252ff" d="M15 37h1v1h-1z"/><path fill="#5656ff" d="M16 37h1v1h-1z"/><path fill="#5959ff" d="M17 37h1v1h-1zM19 37h1v1h-1z"/><path fill="#5a5aff" d="M18 37h1v1h-1z"/><path fill="#7f2dab" d="M52 37h1v1h-1z"/></svg><svg class="ov" width="2460" height="492" viewBox="0 0 2460 492"><circle cx="21.4" cy="101.4" r="1.7"/><circle cx="32.4" cy="101.4" r="1.7"/><circle cx="43.5" cy="101.4" r="1.7"/><circle cx="50.3" cy="103.5" r="1.7"/><circle cx="54.6" cy="104.5" r="1.7"/><circle cx="65.4" cy="111.4" r="1.7"/><circle cx="71.5" cy="114.5" r="1.7"/><circle cx="76.5" cy="117.3" r="1.7"/><circle cx="88.5" cy="123.5" r="1.7"/><circle cx="92.4" cy="125.4" r="1.7"/><circle cx="99.4" cy="129.4" r="1.7"/><circle cx="110.4" cy="136.4" r="1.7"/><circle cx="111.5" cy="136.4" r="1.7"/><circle cx="121.5" cy="140.4" r="1.7"/><circle cx="132.4" cy="143.5" r="1.7"/><circle cx="143.5" cy="145.2" r="1.7"/><circle cx="153.7" cy="148.3" r="1.7"/><circle cx="155.7" cy="148.3" r="1.7"/><circle cx="166.3" cy="154.1" r="1.7"/><circle cx="171.3" cy="159.1" r="1.7"/><circle cx="177.3" cy="164.2" r="1.7"/><circle cx="188.5" cy="170.2" r="1.7"/><circle cx="199.4" cy="176.3" r="1.7"/><circle cx="207.7" cy="181.4" r="1.7"/><circle cx="210.6" cy="184.3" r="1.7"/><circle cx="219.5" cy="192.1" r="1.7"/><circle cx="222.4" cy="194.4" r="1.7"/><circle cx="230.5" cy="203.1" r="1.7"/><circle cx="233.4" cy="206.2" r="1.7"/><circle cx="239.4" cy="215.2" r="1.7"/><circle cx="244.2" cy="221.4" r="1.7"/><circle cx="255.6" cy="226.6" r="1.7"/><circle cx="258.3" cy="226.6" r="1.7"/><circle cx="266.4" cy="225.5" r="1.7"/><circle cx="277.4" cy="222.4" r="1.7"/><circle cx="289.4" cy="216.5" r="1.7"/><circle cx="294.5" cy="215.3" r="1.7"/><circle cx="300.4" cy="213.5" r="1.7"/><circle cx="311.4" cy="214.4" r="1.7"/><circle cx="322.4" cy="213.5" r="1.7"/><circle cx="333.5" cy="209.5" r="1.7"/><circle cx="344.5" cy="209.5" r="1.7"/><circle cx="354.0" cy="215.2" r="1.7"/><circle cx="356.5" cy="215.2" r="1.7"/><circle cx="367.3" cy="218.3" r="1.7"/><circle cx="378.3" cy="220.4" r="1.7"/><circle cx="389.5" cy="223.2" r="1.7"/><circle cx="397.5" cy="226.2" r="1.7"/><circle cx="400.3" cy="226.2" r="1.7"/><circle cx="411.5" cy="228.4" r="1.7"/><circle cx="423.4" cy="229.3" r="1.7"/><circle cx="434.4" cy="232.3" r="1.7"/><circle cx="444.2" cy="237.3" r="1.7"/><circle cx="445.6" cy="237.3" r="1.7"/><circle cx="456.2" cy="244.3" r="1.7"/><circle cx="465.5" cy="248.3" r="1.7"/><circle cx="467.2" cy="249.3" r="1.7"/><circle cx="879.4" cy="101.4" r="1.7"/><circle cx="890.4" cy="101.4" r="1.7"/><circle cx="901.5" cy="101.4" r="1.7"/><circle cx="908.3" cy="103.5" r="1.7"/><circle cx="912.6" cy="104.5" r="1.7"/><circle cx="923.4" cy="111.4" r="1.7"/><circle cx="929.5" cy="114.5" r="1.7"/><circle cx="934.5" cy="117.3" r="1.7"/><circle cx="946.5" cy="123.5" r="1.7"/><circle cx="950.4" cy="125.4" r="1.7"/><circle cx="957.4" cy="129.4" r="1.7"/><circle cx="968.4" cy="136.4" r="1.7"/><circle cx="969.5" cy="136.4" r="1.7"/><circle cx="979.5" cy="140.4" r="1.7"/><circle cx="990.4" cy="143.5" r="1.7"/><circle cx="1001.5" cy="145.2" r="1.7"/><circle cx="1011.7" cy="148.3" r="1.7"/><circle cx="1013.7" cy="148.3" r="1.7"/><circle cx="1024.3" cy="154.1" r="1.7"/><circle cx="1029.3" cy="159.1" r="1.7"/><circle cx="1035.3" cy="164.2" r="1.7"/><circle cx="1046.5" cy="170.2" r="1.7"/><circle cx="1057.4" cy="176.3" r="1.7"/><circle cx="1065.7" cy="181.4" r="1.7"/><circle cx="1068.6" cy="184.3" r="1.7"/><circle cx="1077.5" cy="192.1" r="1.7"/><circle cx="1080.4" cy="194.4" r="1.7"/><circle cx="1088.5" cy="203.1" r="1.7"/><circle cx="1091.4" cy="206.2" r="1.7"/><circle cx="1097.4" cy="215.2" r="1.7"/><circle cx="1102.2" cy="221.4" r="1.7"/><circle cx="1113.6" cy="226.6" r="1.7"/><circle cx="1116.3" cy="226.6" r="1.7"/><circle cx="1124.4" cy="225.5" r="1.7"/><circle cx="1135.4" cy="222.4" r="1.7"/><circle cx="1147.4" cy="216.5" r="1.7"/><circle cx="1152.5" cy="215.3" r="1.7"/><circle cx="1158.4" cy="213.5" r="1.7"/><circle cx="1169.4" cy="214.4" r="1.7"/><circle cx="1180.4" cy="213.5" r="1.7"/><circle cx="1191.5" cy="209.5" r="1.7"/><circle cx="1202.5" cy="209.5" r="1.7"/><circle cx="1212.0" cy="215.2" r="1.7"/><circle cx="1214.5" cy="215.2" r="1.7"/><circle cx="1225.3" cy="218.3" r="1.7"/><circle cx="1236.3" cy="220.4" r="1.7"/><circle cx="1247.5" cy="223.2" r="1.7"/><circle cx="1255.5" cy="226.2" r="1.7"/><circle cx="1258.3" cy="226.2" r="1.7"/><circle cx="1269.5" cy="228.4" r="1.7"/><circle cx="1281.4" cy="229.3" r="1.7"/><circle cx="1292.4" cy="232.3" r="1.7"/><circle cx="1302.2" cy="237.3" r="1.7"/><circle cx="1303.6" cy="237.3" r="1.7"/><circle cx="1314.2" cy="244.3" r="1.7"/><circle cx="1323.5" cy="248.3" r="1.7"/><circle cx="1325.2" cy="249.3" r="1.7"/><circle cx="1736.4" cy="101.4" r="1.7"/><circle cx="1747.4" cy="101.4" r="1.7"/><circle cx="1758.5" cy="101.4" r="1.7"/><circle cx="1765.3" cy="103.5" r="1.7"/><circle cx="1769.6" cy="104.5" r="1.7"/><circle cx="1780.4" cy="111.4" r="1.7"/><circle cx="1786.5" cy="114.5" r="1.7"/><circle cx="1791.5" cy="117.3" r="1.7"/><circle cx="1803.5" cy="123.5" r="1.7"/><circle cx="1807.4" cy="125.4" r="1.7"/><circle cx="1814.4" cy="129.4" r="1.7"/><circle cx="1825.4" cy="136.4" r="1.7"/><circle cx="1826.5" cy="136.4" r="1.7"/><circle cx="1836.5" cy="140.4" r="1.7"/><circle cx="1847.4" cy="143.5" r="1.7"/><circle cx="1858.5" cy="145.2" r="1.7"/><circle cx="1868.7" cy="148.3" r="1.7"/><circle cx="1870.7" cy="148.3" r="1.7"/><circle cx="1881.3" cy="154.1" r="1.7"/><circle cx="1886.3" cy="159.1" r="1.7"/><circle cx="1892.3" cy="164.2" r="1.7"/><circle cx="1903.5" cy="170.2" r="1.7"/><circle cx="1914.4" cy="176.3" r="1.7"/><circle cx="1922.7" cy="181.4" r="1.7"/><circle cx="1925.6" cy="184.3" r="1.7"/><circle cx="1934.5" cy="192.1" r="1.7"/><circle cx="1937.4" cy="194.4" r="1.7"/><circle cx="1945.5" cy="203.1" r="1.7"/><circle cx="1948.4" cy="206.2" r="1.7"/><circle cx="1954.4" cy="215.2" r="1.7"/><circle cx="1959.2" cy="221.4" r="1.7"/><circle cx="1970.6" cy="226.6" r="1.7"/><circle cx="1973.3" cy="226.6" r="1.7"/><circle cx="1981.4" cy="225.5" r="1.7"/><circle cx="1992.4" cy="222.4" r="1.7"/><circle cx="2004.4" cy="216.5" r="1.7"/><circle cx="2009.5" cy="215.3" r="1.7"/><circle cx="2015.4" cy="213.5" r="1.7"/><circle cx="2026.4" cy="214.4" r="1.7"/><circle cx="2037.4" cy="213.5" r="1.7"/><circle cx="2048.5" cy="209.5" r="1.7"/><circle cx="2059.5" cy="209.5" r="1.7"/><circle cx="2069.0" cy="215.2" r="1.7"/><circle cx="2071.5" cy="215.2" r="1.7"/><circle cx="2082.3" cy="218.3" r="1.7"/><circle cx="2093.3" cy="220.4" r="1.7"/><circle cx="2104.5" cy="223.2" r="1.7"/><circle cx="2112.5" cy="226.2" r="1.7"/><circle cx="2115.3" cy="226.2" r="1.7"/><circle cx="2126.5" cy="228.4" r="1.7"/><circle cx="2138.4" cy="229.3" r="1.7"/><circle cx="2149.4" cy="232.3" r="1.7"/><circle cx="2159.2" cy="237.3" r="1.7"/><circle cx="2160.6" cy="237.3" r="1.7"/><circle cx="2171.2" cy="244.3" r="1.7"/><circle cx="2180.5" cy="248.3" r="1.7"/><circle cx="2182.2" cy="249.3" r="1.7"/></svg>
<div class="t" style="left:296px;top:10.8px;transform:scaleX(1.145)">sar2132</div>
<div class="t" style="left:1034px;top:10.8px;transform:scaleX(1.175)">1999-09-14-09-36-43</div>
<div class="t" style="left:2065px;top:10.8px;transform:scaleX(1.060)">L5</div>
<div class="lg"></div>
<div class="pt" style="top:284px;background:#ff8c40"></div>
<div class="pt" style="top:314px;background:#ccffff"></div>
<div class="pt" style="top:345px;height:16px;background:#0055ff"></div>
<div class="pt" style="top:383px;height:3px;background:#000"></div>
<div class="pt" style="top:406px;height:16px;background:#9b2830;box-sizing:border-box;border:1px solid #7a1a20"></div>
<div class="lt" style="top:282px;transform:scaleX(1.036)">sand</div>
<div class="lt" style="top:313px;left:1299px">whitewater</div>
<div class="lt" style="top:343px">water</div>
<div class="lt" style="top:374px;transform:scaleX(1.064)">shoreline</div>
<div class="lt" style="top:404px;left:1296px">reference shoreline buffer</div>
</body></html>
